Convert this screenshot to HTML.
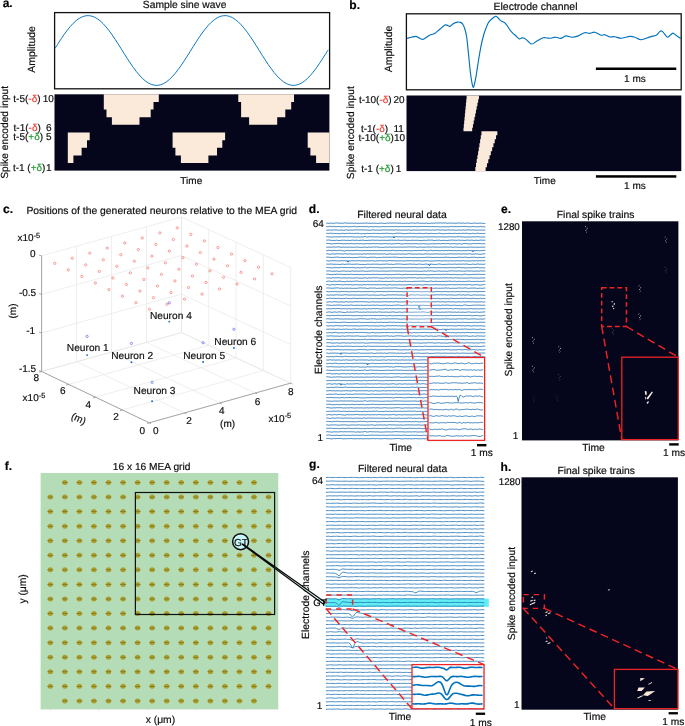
<!DOCTYPE html>
<html><head><meta charset="utf-8"><title>Figure</title>
<style>html,body{margin:0;padding:0;background:#fff;}svg{display:block;font-family:"Liberation Sans", sans-serif;will-change:transform;text-rendering:geometricPrecision;}text{stroke-width:0.18px;}</style></head>
<body>
<svg width="685" height="726" viewBox="0 0 685 726">
<defs>
<path id="wd0" d="M326.3 -0.07L327.3 0.03L328.3 0.19L329.3 0.07L330.3 -0.09L331.3 0.1L332.3 -0.1L333.3 0.21L334.3 0.06L335.3 -0.15L336.3 -0.28L337.3 -0.22L338.3 0.05L339.3 -0.1L340.3 0L341.3 0.09L342.3 0.04L343.3 0.05L344.3 -0.21L345.3 -0.32L346.3 -0.25L347.3 0.03L348.3 0.04L349.3 -0.05L350.3 -0.01L351.3 -0.03L352.3 -0.08L353.3 0.07L354.3 0.08L355.3 -0.07L356.3 0.03L357.3 0.05L358.3 0.15L359.3 0.11L360.3 -0.05L361.3 0.2L362.3 -0.05L363.3 -0.06L364.3 0.04L365.3 -0.14L366.3 -0.05L367.3 -0.18L368.3 0.02L369.3 0.13L370.3 0.08L371.3 0.17L372.3 -0.05L373.3 0.01L374.3 0.03L375.3 0.08L376.3 0.08L377.3 0.19L378.3 0.22L379.3 0.01L380.3 0.02L381.3 -0.18L382.3 0.04L383.3 0.11L384.3 0.28L385.3 0.25L386.3 -0.01L387.3 -0.11L388.3 -0.04L389.3 -0.22L390.3 -0.04L391.3 -0.07L392.3 -0.14L393.3 -0.24L394.3 -0.03L395.3 -0.19L396.3 -0.18L397.3 -0.11L398.3 0.13L399.3 -0.07L400.3 0L401.3 0.01L402.3 0.09L403.3 0.1L404.3 0.18L405.3 0.03L406.3 0.01L407.3 -0.06L408.3 0.11L409.3 0.22L410.3 -0.06L411.3 -0.17L412.3 -0.19L413.3 -0.15L414.3 -0.01L415.3 0.04L416.3 -0.12L417.3 -0.28L418.3 -0.11L419.3 -0.03L420.3 0.04L421.3 0.15L422.3 0.09L423.3 0.04L424.3 0.08L425.3 0.09L426.3 -0.16L427.3 0.13L428.3 0.21L429.3 0.22L430.3 0.12L431.3 -0.07L432.3 -0.05L433.3 -0.09L434.3 0.08L435.3 -0.16L436.3 -0.26L437.3 -0.22L438.3 -0.21L439.3 -0.17L440.3 -0.27L441.3 -0.25L442.3 -0.13L443.3 -0.16L444.3 -0.17L445.3 -0.34L446.3 0L447.3 0.09L448.3 -0.06L449.3 -0.11L450.3 -0.1L451.3 -0.06L452.3 -0.16L453.3 0.02L454.3 0.12L455.3 0.04L456.3 0.1L457.3 -0.06L458.3 -0.2L459.3 -0.2L460.3 -0.19L461.3 0.09L462.3 -0.09L463.3 -0.24L464.3 0.09L465.3 0.09L466.3 -0.07L467.3 -0.05L468.3 -0.27L469.3 -0.09L470.3 0.22L471.3 0.27L472.3 0.15L473.3 -0.1L474.3 -0.1L475.3 -0.13L476.3 0.07L477.3 0.02L478.3 0.11L479.3 0.01L480.3 -0.08L481.3 0.05L482.3 0.14L483.3 0.18L484.3 0.25L485.3 0.27"/>
<path id="wd1" d="M326.3 -0.08L327.3 -0.15L328.3 -0.23L329.3 -0.26L330.3 -0.09L331.3 0.12L332.3 0.21L333.3 0.11L334.3 0.12L335.3 0.16L336.3 -0.11L337.3 0.03L338.3 0.2L339.3 0.22L340.3 0.2L341.3 0.05L342.3 -0.15L343.3 0L344.3 -0.11L345.3 0.06L346.3 0.21L347.3 0.04L348.3 -0.01L349.3 0.18L350.3 0.18L351.3 -0.02L352.3 -0.1L353.3 -0.13L354.3 0.11L355.3 0.12L356.3 -0.16L357.3 0.01L358.3 0.14L359.3 0.09L360.3 -0.03L361.3 0.02L362.3 -0.11L363.3 -0.19L364.3 0.18L365.3 0.19L366.3 0.13L367.3 0.22L368.3 0L369.3 0.06L370.3 0.06L371.3 -0.14L372.3 -0.16L373.3 -0.12L374.3 -0.11L375.3 0.02L376.3 -0.06L377.3 -0.02L378.3 -0.1L379.3 0.18L380.3 0.03L381.3 -0.03L382.3 -0.05L383.3 0.05L384.3 -0.08L385.3 0.12L386.3 0.07L387.3 0.09L388.3 0.08L389.3 -0.14L390.3 -0.07L391.3 -0.14L392.3 -0.22L393.3 0.07L394.3 -0.08L395.3 -0.06L396.3 0.02L397.3 -0.04L398.3 -0.12L399.3 -0.04L400.3 0.04L401.3 0.16L402.3 -0.08L403.3 -0.01L404.3 -0.11L405.3 -0.12L406.3 0.09L407.3 0.08L408.3 0.08L409.3 0.13L410.3 0.17L411.3 -0.01L412.3 0L413.3 -0.01L414.3 0L415.3 0.08L416.3 0.01L417.3 0.02L418.3 0.02L419.3 0.22L420.3 0.21L421.3 0.26L422.3 0.28L423.3 -0.02L424.3 -0.04L425.3 0.11L426.3 0.13L427.3 -0.12L428.3 -0.2L429.3 -0.09L430.3 -0.19L431.3 -0.14L432.3 -0.16L433.3 0.08L434.3 0.2L435.3 0.24L436.3 -0.09L437.3 -0.02L438.3 -0.02L439.3 -0.2L440.3 0.07L441.3 0.22L442.3 -0.01L443.3 0.18L444.3 0.04L445.3 0.04L446.3 0.26L447.3 0.28L448.3 0L449.3 -0.04L450.3 -0.08L451.3 -0.17L452.3 -0.24L453.3 -0.17L454.3 0.06L455.3 -0.12L456.3 0.01L457.3 -0.01L458.3 -0.2L459.3 -0.13L460.3 0.03L461.3 0.05L462.3 -0.13L463.3 0.13L464.3 0.11L465.3 0.17L466.3 -0.13L467.3 -0.13L468.3 -0.19L469.3 0.08L470.3 -0.05L471.3 -0.18L472.3 -0.11L473.3 0.11L474.3 0.19L475.3 0.01L476.3 -0.11L477.3 0.13L478.3 0.05L479.3 0.06L480.3 -0.16L481.3 -0.24L482.3 -0.01L483.3 -0.03L484.3 -0.19L485.3 0.09"/>
<path id="wd2" d="M326.3 -0.13L327.3 -0.23L328.3 -0.2L329.3 -0.14L330.3 -0.1L331.3 0.11L332.3 -0.01L333.3 0.01L334.3 -0.14L335.3 -0.15L336.3 -0.3L337.3 -0.25L338.3 -0.3L339.3 0L340.3 0.06L341.3 -0.04L342.3 0.02L343.3 0.21L344.3 -0.08L345.3 0.08L346.3 -0.03L347.3 -0.04L348.3 0.09L349.3 -0.02L350.3 -0.01L351.3 0.06L352.3 0.21L353.3 0.02L354.3 0.16L355.3 0.17L356.3 0.15L357.3 0.04L358.3 -0.04L359.3 -0.21L360.3 -0.26L361.3 -0.31L362.3 -0.06L363.3 -0.14L364.3 -0.17L365.3 -0.18L366.3 0.12L367.3 0.23L368.3 0.17L369.3 -0.03L370.3 -0.14L371.3 -0.16L372.3 -0.11L373.3 -0.19L374.3 -0.09L375.3 -0.12L376.3 0.15L377.3 0.25L378.3 0.11L379.3 -0.05L380.3 0.18L381.3 0L382.3 -0.04L383.3 -0.21L384.3 -0.14L385.3 -0.09L386.3 -0.06L387.3 -0.16L388.3 -0.06L389.3 -0.19L390.3 -0.12L391.3 -0.17L392.3 -0.08L393.3 -0.21L394.3 -0.28L395.3 -0.21L396.3 -0.2L397.3 -0.04L398.3 0.01L399.3 0.13L400.3 0.13L401.3 0.13L402.3 0.18L403.3 -0.01L404.3 -0.09L405.3 0.15L406.3 -0.06L407.3 0.1L408.3 0.13L409.3 -0.11L410.3 0.08L411.3 0.13L412.3 0.04L413.3 0.06L414.3 0.13L415.3 -0.06L416.3 0.05L417.3 0.09L418.3 0.21L419.3 0.2L420.3 0.15L421.3 0.02L422.3 0.09L423.3 0.06L424.3 0.1L425.3 -0.03L426.3 -0.13L427.3 -0.14L428.3 -0.07L429.3 -0.18L430.3 0.04L431.3 0L432.3 0.02L433.3 0.05L434.3 0.09L435.3 0.03L436.3 -0.18L437.3 0.04L438.3 0.1L439.3 0.04L440.3 0.04L441.3 0.11L442.3 -0.09L443.3 0.09L444.3 -0.06L445.3 -0.21L446.3 -0.21L447.3 -0.04L448.3 -0.17L449.3 0.02L450.3 0.22L451.3 0.12L452.3 0.05L453.3 0.05L454.3 0.1L455.3 0.13L456.3 0.06L457.3 0.05L458.3 -0.17L459.3 -0.21L460.3 -0.17L461.3 0.04L462.3 -0.07L463.3 0L464.3 -0.2L465.3 -0.23L466.3 -0.15L467.3 0.05L468.3 0.13L469.3 0.14L470.3 -0.04L471.3 -0.04L472.3 -0.08L473.3 -0.1L474.3 -0.22L475.3 0.06L476.3 -0.07L477.3 0.21L478.3 0.3L479.3 -0.04L480.3 0L481.3 0.13L482.3 0.21L483.3 0.03L484.3 -0.12L485.3 -0.2"/>
<path id="wd3" d="M326.3 -0.22L327.3 -0.06L328.3 -0.02L329.3 -0.1L330.3 -0.22L331.3 -0.18L332.3 -0.13L333.3 0.12L334.3 -0.13L335.3 0.05L336.3 0.13L337.3 -0.09L338.3 0.17L339.3 0.17L340.3 0.21L341.3 -0.04L342.3 -0.1L343.3 -0.08L344.3 0.18L345.3 0.1L346.3 -0.04L347.3 -0.06L348.3 -0.1L349.3 -0.17L350.3 -0.18L351.3 0.08L352.3 -0.07L353.3 0.14L354.3 -0.04L355.3 -0.1L356.3 -0.04L357.3 -0.17L358.3 -0.14L359.3 0.12L360.3 0.21L361.3 0.21L362.3 0.14L363.3 0.21L364.3 0.26L365.3 0.13L366.3 0.16L367.3 -0.12L368.3 0.03L369.3 -0.04L370.3 0.06L371.3 0.07L372.3 -0.06L373.3 -0.21L374.3 0.08L375.3 -0.11L376.3 -0.03L377.3 -0.03L378.3 -0.06L379.3 0.08L380.3 0.2L381.3 -0.03L382.3 0.04L383.3 -0.07L384.3 -0.03L385.3 -0.08L386.3 -0.18L387.3 -0.19L388.3 -0.16L389.3 0.13L390.3 0.06L391.3 -0.08L392.3 0.14L393.3 0.26L394.3 0.09L395.3 -0.12L396.3 -0.2L397.3 -0.27L398.3 -0.18L399.3 -0.22L400.3 -0.17L401.3 -0.15L402.3 -0.03L403.3 0.15L404.3 0.19L405.3 0.07L406.3 0.01L407.3 0L408.3 -0.08L409.3 -0.11L410.3 -0.21L411.3 -0.17L412.3 0.09L413.3 -0.15L414.3 -0.06L415.3 0.06L416.3 0.21L417.3 -0.01L418.3 -0.09L419.3 -0.14L420.3 -0.07L421.3 -0.02L422.3 0.17L423.3 0.15L424.3 0.14L425.3 -0.17L426.3 -0.23L427.3 0.03L428.3 0.17L429.3 0.04L430.3 0.05L431.3 -0.13L432.3 -0.03L433.3 0.18L434.3 0.16L435.3 0.14L436.3 0.21L437.3 -0.02L438.3 -0.16L439.3 -0.22L440.3 -0.11L441.3 0.02L442.3 0.23L443.3 0.23L444.3 0.17L445.3 0.15L446.3 0.01L447.3 0.04L448.3 -0.13L449.3 0.06L450.3 -0.14L451.3 0.04L452.3 0.04L453.3 -0.03L454.3 -0.11L455.3 -0.13L456.3 -0.01L457.3 0.07L458.3 -0.08L459.3 -0.13L460.3 -0.02L461.3 -0.02L462.3 -0.11L463.3 -0.17L464.3 0L465.3 -0.18L466.3 -0.17L467.3 -0.13L468.3 0.12L469.3 0.16L470.3 0.28L471.3 0.12L472.3 -0.09L473.3 -0.16L474.3 0.14L475.3 0.17L476.3 -0.01L477.3 -0.25L478.3 -0.17L479.3 -0.01L480.3 0.01L481.3 -0.04L482.3 0.06L483.3 0.15L484.3 -0.06L485.3 -0.15"/>
<path id="wd4" d="M326.3 0.22L327.3 0.04L328.3 -0.16L329.3 -0.2L330.3 -0.08L331.3 0.08L332.3 0.23L333.3 -0.09L334.3 -0.12L335.3 -0.17L336.3 0.16L337.3 -0.01L338.3 -0.14L339.3 -0.25L340.3 -0.22L341.3 0L342.3 0.15L343.3 0.21L344.3 0.36L345.3 0.34L346.3 0.03L347.3 -0.18L348.3 0.04L349.3 0.09L350.3 -0.13L351.3 0.06L352.3 0.01L353.3 -0.03L354.3 -0.07L355.3 -0.16L356.3 -0.28L357.3 -0.22L358.3 -0.17L359.3 0.12L360.3 -0.07L361.3 0.21L362.3 -0.01L363.3 -0.07L364.3 0.06L365.3 0.11L366.3 0.01L367.3 -0.15L368.3 -0.04L369.3 -0.07L370.3 0.12L371.3 -0.09L372.3 -0.06L373.3 0.17L374.3 -0.1L375.3 -0.09L376.3 0.04L377.3 0.07L378.3 -0.17L379.3 -0.2L380.3 -0.19L381.3 0.14L382.3 -0.04L383.3 0.05L384.3 0.13L385.3 -0.05L386.3 -0.12L387.3 0.15L388.3 0.13L389.3 0L390.3 0.12L391.3 -0.03L392.3 -0.13L393.3 -0.29L394.3 -0.04L395.3 0.15L396.3 0.14L397.3 0.27L398.3 -0.07L399.3 -0.13L400.3 -0.08L401.3 0.13L402.3 0.21L403.3 0.03L404.3 -0.09L405.3 -0.06L406.3 -0.02L407.3 0.18L408.3 -0.03L409.3 0.12L410.3 0.12L411.3 0.13L412.3 0.12L413.3 0.08L414.3 -0.02L415.3 -0.05L416.3 -0.06L417.3 0.09L418.3 -0.14L419.3 -0.16L420.3 0.05L421.3 -0.1L422.3 -0.24L423.3 -0.3L424.3 -0.08L425.3 -0.05L426.3 0.23L427.3 0.27L428.3 0.26L429.3 -0.07L430.3 -0.25L431.3 -0.26L432.3 -0.05L433.3 0.12L434.3 0.05L435.3 -0.09L436.3 -0.08L437.3 0L438.3 0.06L439.3 0.11L440.3 0.15L441.3 0.1L442.3 -0.1L443.3 0.14L444.3 0.03L445.3 0.05L446.3 -0.07L447.3 0L448.3 -0.17L449.3 -0.15L450.3 -0.09L451.3 -0.11L452.3 0.12L453.3 0.03L454.3 -0.09L455.3 -0.07L456.3 0.2L457.3 0.1L458.3 -0.09L459.3 0.04L460.3 0.03L461.3 0.22L462.3 -0.01L463.3 0.06L464.3 0.16L465.3 0.13L466.3 0.13L467.3 -0.18L468.3 -0.13L469.3 -0.14L470.3 -0.12L471.3 0.16L472.3 0.08L473.3 0.18L474.3 0L475.3 0.12L476.3 0L477.3 -0.12L478.3 0.08L479.3 0.25L480.3 0L481.3 0.07L482.3 0.03L483.3 -0.18L484.3 -0.18L485.3 -0.2"/>
<path id="wd5" d="M326.3 0.01L327.3 0.04L328.3 0.04L329.3 -0.19L330.3 -0.23L331.3 0L332.3 -0.01L333.3 -0.07L334.3 -0.1L335.3 0.14L336.3 -0.02L337.3 0.03L338.3 -0.04L339.3 -0.06L340.3 0.09L341.3 0.21L342.3 0.04L343.3 -0.07L344.3 0.09L345.3 -0.1L346.3 -0.26L347.3 0.04L348.3 -0.01L349.3 0.17L350.3 0.06L351.3 0.16L352.3 0L353.3 -0.17L354.3 -0.25L355.3 -0.03L356.3 0.09L357.3 0.2L358.3 -0.13L359.3 -0.04L360.3 -0.08L361.3 0.01L362.3 -0.08L363.3 -0.09L364.3 -0.05L365.3 0.09L366.3 -0.16L367.3 -0.05L368.3 0.15L369.3 0.28L370.3 0L371.3 -0.16L372.3 0.09L373.3 0.2L374.3 0.06L375.3 -0.16L376.3 0.1L377.3 -0.02L378.3 0.16L379.3 0.13L380.3 0.2L381.3 -0.06L382.3 0.07L383.3 -0.11L384.3 -0.08L385.3 0.12L386.3 0.17L387.3 -0.08L388.3 -0.16L389.3 -0.1L390.3 0.01L391.3 0.02L392.3 -0.09L393.3 -0.15L394.3 -0.04L395.3 0.05L396.3 -0.19L397.3 0L398.3 0.19L399.3 -0.05L400.3 0.11L401.3 -0.16L402.3 -0.07L403.3 -0.02L404.3 0.07L405.3 -0.02L406.3 -0.04L407.3 -0.02L408.3 -0.07L409.3 0.04L410.3 0.04L411.3 0.04L412.3 -0.15L413.3 -0.03L414.3 -0.06L415.3 -0.16L416.3 0.03L417.3 0.13L418.3 0.05L419.3 -0.08L420.3 -0.01L421.3 -0.13L422.3 -0.19L423.3 -0.13L424.3 -0.26L425.3 -0.15L426.3 -0.03L427.3 -0.13L428.3 0.06L429.3 -0.13L430.3 0L431.3 0.05L432.3 0L433.3 -0.13L434.3 0.02L435.3 -0.01L436.3 0.14L437.3 -0.17L438.3 0.03L439.3 0.22L440.3 0.24L441.3 0.28L442.3 -0.01L443.3 0.13L444.3 -0.03L445.3 0.13L446.3 0.24L447.3 0.01L448.3 0.16L449.3 0.22L450.3 -0.13L451.3 -0.15L452.3 0.03L453.3 -0.11L454.3 0.15L455.3 -0.01L456.3 0.14L457.3 -0.09L458.3 -0.05L459.3 0.11L460.3 -0.11L461.3 -0.15L462.3 -0.02L463.3 -0.02L464.3 -0.14L465.3 -0.17L466.3 -0.24L467.3 0.02L468.3 0.05L469.3 0.21L470.3 0L471.3 0.14L472.3 -0.13L473.3 -0.1L474.3 -0.03L475.3 -0.03L476.3 0.22L477.3 0.17L478.3 0.09L479.3 0.1L480.3 -0.22L481.3 0.06L482.3 0.11L483.3 0.09L484.3 0.23L485.3 0.01"/>
<path id="wd6" d="M326.3 -0.24L327.3 -0.33L328.3 -0.29L329.3 -0.04L330.3 0.01L331.3 0.06L332.3 0.2L333.3 -0.08L334.3 -0.15L335.3 0L336.3 -0.18L337.3 -0.25L338.3 -0.16L339.3 -0.25L340.3 -0.19L341.3 -0.19L342.3 0L343.3 0.1L344.3 -0.03L345.3 0.06L346.3 0L347.3 -0.17L348.3 0.1L349.3 -0.06L350.3 -0.15L351.3 -0.23L352.3 -0.08L353.3 0.06L354.3 0.11L355.3 0.03L356.3 -0.01L357.3 -0.12L358.3 0.06L359.3 0.04L360.3 -0.07L361.3 0L362.3 -0.04L363.3 0.14L364.3 0.1L365.3 -0.11L366.3 0.08L367.3 -0.15L368.3 0.02L369.3 0.06L370.3 0L371.3 -0.14L372.3 0.03L373.3 -0.25L374.3 -0.13L375.3 0.1L376.3 -0.11L377.3 -0.15L378.3 -0.01L379.3 0L380.3 0.07L381.3 0.19L382.3 -0.01L383.3 -0.05L384.3 -0.11L385.3 -0.28L386.3 -0.01L387.3 0.08L388.3 0.13L389.3 -0.09L390.3 0.15L391.3 0.16L392.3 0.02L393.3 0.07L394.3 -0.01L395.3 -0.11L396.3 -0.19L397.3 -0.18L398.3 -0.27L399.3 -0.17L400.3 0.05L401.3 0.14L402.3 0.24L403.3 0.2L404.3 -0.04L405.3 -0.05L406.3 -0.1L407.3 0.05L408.3 0.04L409.3 -0.05L410.3 0.05L411.3 0.2L412.3 -0.05L413.3 0.14L414.3 -0.1L415.3 -0.08L416.3 -0.1L417.3 0.04L418.3 0.14L419.3 0.09L420.3 -0.07L421.3 0.13L422.3 0L423.3 -0.1L424.3 0.12L425.3 0.08L426.3 0.12L427.3 0.16L428.3 0.31L429.3 0.13L430.3 0.16L431.3 0.07L432.3 0.08L433.3 -0.05L434.3 0.07L435.3 0.08L436.3 -0.02L437.3 -0.1L438.3 0.03L439.3 -0.13L440.3 0.15L441.3 -0.05L442.3 -0.2L443.3 -0.26L444.3 0L445.3 -0.13L446.3 -0.2L447.3 -0.22L448.3 -0.19L449.3 0.05L450.3 0.08L451.3 0.08L452.3 0.09L453.3 -0.15L454.3 -0.01L455.3 -0.05L456.3 0.1L457.3 0.14L458.3 0.19L459.3 -0.09L460.3 0.15L461.3 0.25L462.3 0.27L463.3 -0.1L464.3 -0.22L465.3 -0.28L466.3 -0.28L467.3 0.08L468.3 0.21L469.3 0.16L470.3 0.19L471.3 0.1L472.3 -0.06L473.3 -0.17L474.3 -0.21L475.3 0.01L476.3 -0.15L477.3 -0.17L478.3 -0.12L479.3 -0.21L480.3 -0.11L481.3 -0.07L482.3 0.09L483.3 -0.03L484.3 -0.11L485.3 0.13"/>
<path id="wd7" d="M326.3 -0.14L327.3 -0.09L328.3 0.1L329.3 0.25L330.3 -0.07L331.3 -0.04L332.3 -0.1L333.3 -0.03L334.3 -0.18L335.3 -0.03L336.3 -0.01L337.3 0.16L338.3 0.01L339.3 0.24L340.3 0.03L341.3 -0.16L342.3 -0.06L343.3 -0.08L344.3 -0.19L345.3 0L346.3 -0.14L347.3 0.11L348.3 0.16L349.3 0.18L350.3 0.09L351.3 -0.05L352.3 -0.07L353.3 -0.09L354.3 0.11L355.3 -0.1L356.3 0.17L357.3 -0.11L358.3 -0.19L359.3 -0.2L360.3 0.08L361.3 0.03L362.3 -0.05L363.3 0.13L364.3 0L365.3 0.07L366.3 0.06L367.3 0.07L368.3 0.05L369.3 0.04L370.3 -0.06L371.3 -0.13L372.3 -0.19L373.3 0.13L374.3 0.21L375.3 0.23L376.3 -0.06L377.3 -0.08L378.3 0.04L379.3 -0.01L380.3 -0.21L381.3 -0.12L382.3 0.14L383.3 0.01L384.3 -0.06L385.3 -0.06L386.3 0.08L387.3 0.15L388.3 -0.14L389.3 -0.23L390.3 -0.19L391.3 -0.12L392.3 -0.03L393.3 -0.14L394.3 -0.09L395.3 -0.11L396.3 0.14L397.3 0.09L398.3 -0.15L399.3 0.16L400.3 -0.06L401.3 -0.07L402.3 0.14L403.3 0.18L404.3 0.18L405.3 0.01L406.3 -0.18L407.3 -0.04L408.3 -0.13L409.3 -0.11L410.3 -0.06L411.3 -0.19L412.3 -0.08L413.3 0.1L414.3 0.08L415.3 -0.04L416.3 -0.01L417.3 -0.03L418.3 -0.14L419.3 0.02L420.3 0.02L421.3 0.16L422.3 0.24L423.3 0.04L424.3 0.02L425.3 0.08L426.3 -0.04L427.3 -0.17L428.3 0.01L429.3 0.2L430.3 0.23L431.3 0.17L432.3 0.19L433.3 0.16L434.3 0.14L435.3 0.02L436.3 -0.13L437.3 -0.03L438.3 -0.14L439.3 -0.06L440.3 0.06L441.3 0.07L442.3 0.1L443.3 -0.02L444.3 -0.02L445.3 -0.05L446.3 0.03L447.3 0L448.3 0.08L449.3 0.17L450.3 -0.1L451.3 0.01L452.3 0.11L453.3 -0.01L454.3 -0.01L455.3 0.21L456.3 -0.08L457.3 0L458.3 -0.13L459.3 0.08L460.3 0.2L461.3 0.04L462.3 -0.19L463.3 -0.05L464.3 0.02L465.3 0.09L466.3 0.02L467.3 0.08L468.3 0.22L469.3 0.13L470.3 -0.01L471.3 0.13L472.3 -0.07L473.3 0.06L474.3 -0.05L475.3 0.02L476.3 -0.16L477.3 0.18L478.3 0.06L479.3 -0.14L480.3 -0.14L481.3 -0.06L482.3 -0.18L483.3 -0.12L484.3 -0.13L485.3 -0.01"/>
<path id="wd8" d="M326.3 -0.01L327.3 -0.21L328.3 0.02L329.3 -0.07L330.3 0.08L331.3 0.22L332.3 0.23L333.3 0.05L334.3 -0.09L335.3 0.01L336.3 -0.08L337.3 0.15L338.3 -0.01L339.3 0.05L340.3 -0.17L341.3 -0.16L342.3 -0.13L343.3 -0.01L344.3 -0.07L345.3 -0.2L346.3 0.01L347.3 -0.07L348.3 -0.1L349.3 -0.09L350.3 -0.06L351.3 -0.12L352.3 -0.07L353.3 0.01L354.3 -0.02L355.3 0.23L356.3 0.27L357.3 -0.08L358.3 0.08L359.3 0.18L360.3 0.21L361.3 -0.02L362.3 0.12L363.3 0.03L364.3 -0.28L365.3 -0.36L366.3 0.07L367.3 0.18L368.3 0.06L369.3 -0.1L370.3 -0.2L371.3 -0.22L372.3 0.01L373.3 -0.03L374.3 -0.13L375.3 0.09L376.3 0.08L377.3 -0.16L378.3 0.09L379.3 0.13L380.3 0.23L381.3 0.19L382.3 0.21L383.3 0.16L384.3 0.17L385.3 -0.05L386.3 0.06L387.3 0L388.3 0.03L389.3 -0.06L390.3 0.14L391.3 0.14L392.3 0.05L393.3 -0.05L394.3 -0.19L395.3 -0.13L396.3 -0.26L397.3 -0.09L398.3 -0.13L399.3 -0.03L400.3 -0.05L401.3 -0.07L402.3 0.08L403.3 -0.13L404.3 0.17L405.3 0.12L406.3 0.08L407.3 0.04L408.3 0.08L409.3 -0.05L410.3 -0.03L411.3 0.2L412.3 -0.1L413.3 -0.01L414.3 0.03L415.3 -0.16L416.3 0.04L417.3 0.13L418.3 0.21L419.3 -0.03L420.3 0.13L421.3 0.05L422.3 0.04L423.3 0.2L424.3 -0.12L425.3 -0.01L426.3 0.01L427.3 -0.05L428.3 0.19L429.3 0.08L430.3 0.03L431.3 -0.03L432.3 0.02L433.3 -0.14L434.3 -0.04L435.3 0.02L436.3 0.07L437.3 0.13L438.3 -0.09L439.3 0.06L440.3 -0.01L441.3 0.05L442.3 -0.03L443.3 -0.01L444.3 0.14L445.3 0.07L446.3 0.14L447.3 0.02L448.3 -0.04L449.3 -0.1L450.3 -0.04L451.3 0.01L452.3 0.12L453.3 -0.1L454.3 0.07L455.3 0.16L456.3 0.03L457.3 -0.19L458.3 -0.12L459.3 -0.17L460.3 -0.14L461.3 0.1L462.3 0.01L463.3 0L464.3 0.1L465.3 0.24L466.3 0.19L467.3 0.13L468.3 0.07L469.3 0.05L470.3 0.04L471.3 0.12L472.3 -0.02L473.3 0.08L474.3 -0.02L475.3 0.03L476.3 -0.19L477.3 -0.19L478.3 -0.2L479.3 0.08L480.3 0.2L481.3 0.12L482.3 -0.01L483.3 0.14L484.3 0.18L485.3 0.08"/>
<path id="wd9" d="M326.3 -0.19L327.3 -0.14L328.3 -0.03L329.3 0.18L330.3 0.25L331.3 0.01L332.3 -0.1L333.3 -0.18L334.3 0.09L335.3 0L336.3 -0.12L337.3 -0.24L338.3 -0.29L339.3 -0.06L340.3 -0.23L341.3 0.07L342.3 -0.1L343.3 0.16L344.3 -0.09L345.3 -0.27L346.3 -0.03L347.3 -0.08L348.3 0.09L349.3 -0.1L350.3 -0.21L351.3 0.06L352.3 0.13L353.3 0.16L354.3 0.11L355.3 -0.12L356.3 0.04L357.3 0.08L358.3 -0.05L359.3 0.12L360.3 -0.02L361.3 0.21L362.3 0.16L363.3 -0.13L364.3 -0.18L365.3 0.05L366.3 0.13L367.3 -0.18L368.3 -0.18L369.3 0.01L370.3 -0.15L371.3 0.05L372.3 0.02L373.3 -0.09L374.3 -0.01L375.3 0.02L376.3 -0.06L377.3 0.04L378.3 -0.1L379.3 0.09L380.3 -0.05L381.3 0.03L382.3 0.07L383.3 -0.02L384.3 -0.1L385.3 0.06L386.3 0.24L387.3 0.26L388.3 0.12L389.3 -0.09L390.3 -0.23L391.3 0.13L392.3 0.16L393.3 0.2L394.3 0.02L395.3 0.07L396.3 0.18L397.3 0.09L398.3 -0.01L399.3 -0.06L400.3 0.04L401.3 0.23L402.3 0.04L403.3 0.08L404.3 0.08L405.3 0.18L406.3 0.15L407.3 -0.05L408.3 -0.19L409.3 -0.16L410.3 -0.14L411.3 -0.09L412.3 0.1L413.3 0.27L414.3 -0.02L415.3 0.13L416.3 0.15L417.3 0.19L418.3 0.08L419.3 -0.1L420.3 0.08L421.3 0.19L422.3 0.19L423.3 0.22L424.3 -0.05L425.3 -0.22L426.3 -0.04L427.3 0.13L428.3 -0.07L429.3 0.08L430.3 0.24L431.3 0.02L432.3 0.04L433.3 0.05L434.3 0L435.3 -0.1L436.3 -0.16L437.3 -0.02L438.3 0.07L439.3 0.04L440.3 -0.1L441.3 0.09L442.3 0.14L443.3 -0.01L444.3 0.08L445.3 0.18L446.3 0.16L447.3 0.02L448.3 -0.01L449.3 0.02L450.3 -0.15L451.3 -0.17L452.3 -0.12L453.3 0.09L454.3 -0.04L455.3 -0.04L456.3 -0.07L457.3 0.02L458.3 -0.1L459.3 -0.21L460.3 0.12L461.3 0.01L462.3 -0.17L463.3 -0.07L464.3 0.04L465.3 -0.09L466.3 0.07L467.3 -0.03L468.3 -0.05L469.3 -0.22L470.3 -0.22L471.3 0.17L472.3 0.22L473.3 0.08L474.3 0.06L475.3 -0.11L476.3 -0.03L477.3 -0.12L478.3 0.15L479.3 0.25L480.3 0.28L481.3 0.28L482.3 -0.01L483.3 -0.18L484.3 -0.18L485.3 -0.21"/>
<path id="wd10" d="M326.3 0.23L327.3 0.19L328.3 0.07L329.3 0.04L330.3 -0.12L331.3 0.1L332.3 0.19L333.3 -0.05L334.3 -0.19L335.3 -0.18L336.3 -0.16L337.3 0.07L338.3 0.2L339.3 0.24L340.3 -0.06L341.3 0.09L342.3 0.12L343.3 0.14L344.3 0.28L345.3 -0.07L346.3 -0.21L347.3 -0.04L348.3 0.11L349.3 0.08L350.3 -0.06L351.3 0.04L352.3 0.17L353.3 -0.02L354.3 -0.05L355.3 -0.14L356.3 -0.25L357.3 -0.11L358.3 -0.13L359.3 -0.11L360.3 -0.19L361.3 -0.06L362.3 -0.26L363.3 -0.03L364.3 -0.12L365.3 -0.2L366.3 0.14L367.3 0L368.3 0.22L369.3 0.21L370.3 0.18L371.3 -0.12L372.3 -0.08L373.3 -0.18L374.3 0.09L375.3 0.13L376.3 0.09L377.3 0.05L378.3 0L379.3 0.14L380.3 0.02L381.3 0.05L382.3 -0.1L383.3 -0.11L384.3 -0.21L385.3 -0.01L386.3 -0.02L387.3 -0.18L388.3 0.05L389.3 -0.11L390.3 -0.06L391.3 -0.09L392.3 -0.03L393.3 0.16L394.3 -0.05L395.3 -0.21L396.3 -0.11L397.3 -0.09L398.3 0.15L399.3 -0.1L400.3 0.14L401.3 -0.14L402.3 0.09L403.3 0.08L404.3 -0.09L405.3 -0.01L406.3 -0.03L407.3 -0.06L408.3 -0.14L409.3 -0.15L410.3 0.1L411.3 0.23L412.3 0.25L413.3 -0.09L414.3 -0.14L415.3 0.11L416.3 -0.09L417.3 0.1L418.3 -0.04L419.3 0.15L420.3 -0.16L421.3 0.06L422.3 -0.03L423.3 -0.15L424.3 -0.24L425.3 0.06L426.3 0.03L427.3 -0.15L428.3 -0.13L429.3 0.1L430.3 -0.02L431.3 0.11L432.3 -0.06L433.3 -0.18L434.3 -0.01L435.3 0.04L436.3 -0.11L437.3 -0.2L438.3 -0.22L439.3 -0.02L440.3 0.02L441.3 -0.08L442.3 -0.17L443.3 -0.05L444.3 0.07L445.3 0.19L446.3 0.13L447.3 -0.08L448.3 -0.23L449.3 0L450.3 -0.03L451.3 0.08L452.3 -0.17L453.3 0.04L454.3 -0.04L455.3 0.16L456.3 0.24L457.3 0.08L458.3 -0.18L459.3 0.08L460.3 0L461.3 0.12L462.3 -0.06L463.3 -0.12L464.3 0.14L465.3 0.03L466.3 -0.15L467.3 -0.17L468.3 -0.06L469.3 -0.18L470.3 0L471.3 0.01L472.3 0L473.3 -0.18L474.3 -0.01L475.3 0.1L476.3 0.16L477.3 0L478.3 0.12L479.3 0.05L480.3 0.13L481.3 -0.16L482.3 0.04L483.3 0.18L484.3 0.08L485.3 0.04"/>
<path id="wd11" d="M326.3 0.03L327.3 0.09L328.3 0.12L329.3 -0.16L330.3 0.08L331.3 0.17L332.3 -0.09L333.3 -0.22L334.3 -0.13L335.3 -0.02L336.3 -0.06L337.3 -0.21L338.3 -0.19L339.3 -0.21L340.3 0.05L341.3 0.23L342.3 -0.07L343.3 -0.04L344.3 0.07L345.3 -0.09L346.3 0.11L347.3 0.21L348.3 0L349.3 -0.07L350.3 0.07L351.3 0.06L352.3 0.06L353.3 0.22L354.3 0.12L355.3 -0.08L356.3 -0.1L357.3 -0.01L358.3 0L359.3 0.13L360.3 0.13L361.3 0.24L362.3 0.23L363.3 0.17L364.3 -0.17L365.3 -0.04L366.3 0.21L367.3 0.24L368.3 -0.05L369.3 -0.03L370.3 0.12L371.3 0.04L372.3 -0.01L373.3 -0.24L374.3 -0.14L375.3 -0.03L376.3 -0.18L377.3 -0.2L378.3 0.1L379.3 0.12L380.3 0.19L381.3 0.15L382.3 0.24L383.3 0.26L384.3 0.18L385.3 -0.19L386.3 0.02L387.3 0.01L388.3 0.1L389.3 -0.13L390.3 -0.1L391.3 0.15L392.3 0.14L393.3 -0.06L394.3 -0.05L395.3 -0.03L396.3 0.23L397.3 0.02L398.3 -0.1L399.3 0.01L400.3 -0.11L401.3 0.02L402.3 0.13L403.3 -0.02L404.3 -0.11L405.3 -0.02L406.3 0.04L407.3 -0.11L408.3 -0.19L409.3 -0.23L410.3 -0.18L411.3 -0.08L412.3 -0.05L413.3 -0.09L414.3 -0.25L415.3 -0.15L416.3 0.1L417.3 0.16L418.3 0.11L419.3 0.01L420.3 -0.2L421.3 0.04L422.3 0.08L423.3 0.07L424.3 0.04L425.3 0.01L426.3 -0.03L427.3 -0.1L428.3 -0.19L429.3 -0.1L430.3 -0.07L431.3 0.02L432.3 -0.22L433.3 -0.17L434.3 0.1L435.3 -0.02L436.3 0.05L437.3 0.02L438.3 -0.09L439.3 0.14L440.3 -0.05L441.3 0.1L442.3 -0.05L443.3 -0.16L444.3 0.03L445.3 -0.1L446.3 -0.2L447.3 -0.03L448.3 0L449.3 0.02L450.3 -0.22L451.3 -0.14L452.3 0.24L453.3 0.21L454.3 -0.11L455.3 -0.14L456.3 -0.1L457.3 0.04L458.3 0.02L459.3 0.11L460.3 0.18L461.3 0.1L462.3 0.12L463.3 0.12L464.3 0.17L465.3 0.09L466.3 0.15L467.3 0.12L468.3 0.18L469.3 -0.09L470.3 0.1L471.3 -0.16L472.3 0.09L473.3 0.08L474.3 -0.03L475.3 0.09L476.3 0.07L477.3 0.09L478.3 0.2L479.3 0.16L480.3 0.03L481.3 0L482.3 0.08L483.3 0.03L484.3 0.02L485.3 -0.15"/>
<g id="el"><ellipse cx="0" cy="0" rx="2.6" ry="2.5" fill="#ad9f2b"/><rect x="-2.9" y="-0.36" width="5.8" height="0.72" fill="#6f6a22" opacity="0.85"/></g>
<path id="wg0" d="M325.9 0.04L327.1 -0.06L328.3 -0.22L329.5 -0.01L330.7 0.04L331.9 0.12L333.1 0.08L334.3 -0.07L335.5 -0.01L336.7 0.05L337.9 -0.09L339.1 0.02L340.3 -0.09L341.5 -0.14L342.7 0.05L343.9 -0.06L345.1 0.12L346.3 0.06L347.5 0.05L348.7 -0.03L349.9 -0.05L351.1 -0.11L352.3 -0.15L353.5 0.04L354.7 -0.09L355.9 0.01L357.1 -0.04L358.3 0.18L359.5 0.2L360.7 0.11L361.9 0.06L363.1 0.03L364.3 0.09L365.5 -0.08L366.7 -0.07L367.9 0.05L369.1 0L370.3 0.17L371.5 0.15L372.7 -0.04L373.9 -0.1L375.1 -0.02L376.3 0.03L377.5 0.16L378.7 -0.01L379.9 -0.17L381.1 -0.17L382.3 0.01L383.5 0.13L384.7 0.06L385.9 0.06L387.1 0.09L388.3 0.1L389.5 -0.1L390.7 -0.09L391.9 -0.06L393.1 0.03L394.3 -0.01L395.5 -0.02L396.7 0.01L397.9 0.12L399.1 -0.06L400.3 -0.09L401.5 -0.14L402.7 -0.13L403.9 -0.09L405.1 0.1L406.3 0.12L407.5 0.01L408.7 0.05L409.9 0.05L411.1 0.07L412.3 0.1L413.5 0.03L414.7 0.21L415.9 0.24L417.1 0.07L418.3 0.05L419.5 0.01L420.7 0.03L421.9 -0.01L423.1 0.08L424.3 -0.11L425.5 -0.16L426.7 0.04L427.9 0.09L429.1 -0.01L430.3 0.07L431.5 -0.05L432.7 -0.02L433.9 -0.04L435.1 -0.07L436.3 -0.16L437.5 -0.17L438.7 -0.09L439.9 0.07L441.1 0.13L442.3 0.11L443.5 0.06L444.7 -0.02L445.9 0.13L447.1 0.06L448.3 0.09L449.5 -0.12L450.7 -0.18L451.9 -0.03L453.1 0.08L454.3 0.19L455.5 0.16L456.7 0.05L457.9 0.03L459.1 0.09L460.3 -0.04L461.5 -0.07L462.7 -0.15L463.9 0.02L465.1 -0.02L466.3 0.14L467.5 0.18L468.7 -0.14L469.9 -0.1L471.1 0L472.3 0.13L473.5 0.08L474.7 -0.05L475.9 -0.03L477.1 0.14L478.3 0.16L479.5 -0.09L480.7 -0.19L481.9 -0.16L483.1 -0.1L484.3 0.01"/>
<path id="wg1" d="M325.9 0.18L327.1 0.12L328.3 0.03L329.5 -0.17L330.7 -0.02L331.9 -0.05L333.1 0.05L334.3 -0.11L335.5 0.01L336.7 -0.03L337.9 0.05L339.1 -0.07L340.3 -0.19L341.5 -0.08L342.7 -0.02L343.9 0.13L345.1 -0.03L346.3 -0.05L347.5 -0.01L348.7 0.13L349.9 -0.05L351.1 -0.01L352.3 -0.01L353.5 0.07L354.7 0.18L355.9 0.02L357.1 0.03L358.3 -0.02L359.5 0L360.7 -0.09L361.9 0.08L363.1 0.15L364.3 0.01L365.5 -0.04L366.7 0.13L367.9 -0.07L369.1 -0.17L370.3 -0.19L371.5 0.04L372.7 0.13L373.9 0.06L375.1 0.03L376.3 -0.15L377.5 -0.03L378.7 -0.03L379.9 0L381.1 -0.02L382.3 -0.02L383.5 -0.06L384.7 -0.11L385.9 -0.07L387.1 -0.14L388.3 -0.05L389.5 0.07L390.7 0.15L391.9 0.09L393.1 -0.05L394.3 -0.09L395.5 -0.05L396.7 0.03L397.9 0.12L399.1 -0.11L400.3 -0.04L401.5 0.07L402.7 0.16L403.9 0.12L405.1 0L406.3 -0.02L407.5 0.12L408.7 0.15L409.9 0.13L411.1 0.07L412.3 0.11L413.5 0.03L414.7 0.08L415.9 -0.12L417.1 -0.06L418.3 0.15L419.5 0.28L420.7 0.23L421.9 -0.12L423.1 -0.12L424.3 -0.07L425.5 -0.06L426.7 -0.16L427.9 -0.05L429.1 -0.05L430.3 0.01L431.5 0.1L432.7 0.01L433.9 -0.06L435.1 -0.11L436.3 0.11L437.5 0.1L438.7 -0.01L439.9 -0.01L441.1 0.03L442.3 0L443.5 -0.12L444.7 0.08L445.9 0.02L447.1 -0.04L448.3 0.09L449.5 -0.03L450.7 0.05L451.9 -0.12L453.1 -0.1L454.3 -0.1L455.5 0.02L456.7 0.18L457.9 0.02L459.1 -0.05L460.3 0.03L461.5 -0.01L462.7 -0.14L463.9 -0.16L465.1 -0.1L466.3 0L467.5 0.19L468.7 -0.13L469.9 -0.07L471.1 0.1L472.3 0.17L473.5 -0.07L474.7 -0.1L475.9 -0.16L477.1 0.07L478.3 0.14L479.5 -0.09L480.7 -0.27L481.9 -0.08L483.1 -0.04L484.3 -0.02"/>
<path id="wg2" d="M325.9 0.08L327.1 -0.02L328.3 0.11L329.5 -0.05L330.7 0.02L331.9 0L333.1 0.07L334.3 -0.01L335.5 -0.12L336.7 0L337.9 0.02L339.1 0.06L340.3 0.01L341.5 0.07L342.7 0.01L343.9 0.02L345.1 0.01L346.3 -0.11L347.5 -0.11L348.7 0.02L349.9 -0.08L351.1 -0.1L352.3 -0.02L353.5 0.07L354.7 0L355.9 -0.04L357.1 -0.19L358.3 -0.26L359.5 -0.11L360.7 0.04L361.9 0.06L363.1 -0.09L364.3 -0.12L365.5 0.14L366.7 0.11L367.9 -0.02L369.1 -0.01L370.3 0.04L371.5 0.03L372.7 -0.12L373.9 0.01L375.1 -0.06L376.3 -0.07L377.5 -0.02L378.7 -0.02L379.9 0L381.1 -0.07L382.3 0.05L383.5 -0.02L384.7 -0.16L385.9 0.01L387.1 0.13L388.3 0.2L389.5 0.12L390.7 -0.03L391.9 0.1L393.1 0.16L394.3 0.01L395.5 0.03L396.7 0.11L397.9 0.05L399.1 0.16L400.3 0.16L401.5 0.14L402.7 -0.02L403.9 0L405.1 0L406.3 -0.04L407.5 0.01L408.7 0.05L409.9 -0.08L411.1 0.07L412.3 0.06L413.5 0.21L414.7 0.05L415.9 0.11L417.1 -0.03L418.3 0.02L419.5 0.09L420.7 0.14L421.9 0L423.1 -0.1L424.3 -0.02L425.5 -0.07L426.7 -0.05L427.9 0.04L429.1 0.02L430.3 -0.03L431.5 -0.15L432.7 -0.17L433.9 -0.11L435.1 -0.15L436.3 0.05L437.5 -0.01L438.7 -0.06L439.9 0.14L441.1 0.06L442.3 0.03L443.5 -0.11L444.7 -0.17L445.9 -0.05L447.1 0.05L448.3 0.08L449.5 0.09L450.7 0.1L451.9 0.07L453.1 -0.08L454.3 -0.09L455.5 -0.05L456.7 0.03L457.9 -0.05L459.1 -0.07L460.3 -0.07L461.5 -0.09L462.7 0.14L463.9 0.1L465.1 0.08L466.3 0.06L467.5 0.06L468.7 0.11L469.9 -0.05L471.1 -0.04L472.3 -0.06L473.5 0.1L474.7 0.05L475.9 -0.01L477.1 0.11L478.3 -0.02L479.5 -0.1L480.7 -0.03L481.9 0.04L483.1 0.05L484.3 -0.05"/>
<path id="wg3" d="M325.9 0.02L327.1 0.11L328.3 0.09L329.5 -0.18L330.7 -0.2L331.9 -0.05L333.1 -0.04L334.3 0.18L335.5 0.08L336.7 0.08L337.9 -0.09L339.1 -0.19L340.3 -0.2L341.5 -0.07L342.7 0.08L343.9 0L345.1 0.07L346.3 -0.02L347.5 0.02L348.7 -0.04L349.9 -0.09L351.1 -0.13L352.3 -0.17L353.5 -0.02L354.7 -0.04L355.9 -0.1L357.1 0.09L358.3 0.09L359.5 -0.09L360.7 0.01L361.9 0.01L363.1 -0.02L364.3 0L365.5 0.13L366.7 0.02L367.9 0.03L369.1 0.03L370.3 -0.03L371.5 -0.04L372.7 0.07L373.9 0.08L375.1 0.02L376.3 0L377.5 -0.09L378.7 0.03L379.9 -0.12L381.1 -0.01L382.3 -0.02L383.5 -0.07L384.7 0.03L385.9 0.07L387.1 -0.06L388.3 -0.04L389.5 -0.16L390.7 -0.04L391.9 -0.09L393.1 -0.05L394.3 -0.01L395.5 -0.04L396.7 -0.06L397.9 -0.16L399.1 -0.11L400.3 -0.02L401.5 -0.1L402.7 -0.08L403.9 0.06L405.1 -0.03L406.3 -0.04L407.5 0.01L408.7 -0.12L409.9 -0.01L411.1 0.03L412.3 -0.07L413.5 -0.08L414.7 -0.02L415.9 -0.13L417.1 -0.13L418.3 -0.01L419.5 0.1L420.7 0.06L421.9 0.06L423.1 -0.13L424.3 -0.11L425.5 -0.09L426.7 0.09L427.9 0.01L429.1 0.07L430.3 -0.11L431.5 -0.05L432.7 0.09L433.9 0.13L435.1 0.09L436.3 -0.04L437.5 0.07L438.7 -0.12L439.9 0.04L441.1 0.08L442.3 0.11L443.5 0.08L444.7 -0.02L445.9 -0.03L447.1 0.03L448.3 0.02L449.5 -0.06L450.7 0.01L451.9 -0.13L453.1 -0.09L454.3 -0.08L455.5 -0.01L456.7 0.12L457.9 0.1L459.1 -0.12L460.3 -0.18L461.5 -0.21L462.7 -0.02L463.9 0.05L465.1 0.02L466.3 0.01L467.5 0.07L468.7 -0.05L469.9 -0.02L471.1 0.02L472.3 0.03L473.5 0.06L474.7 0L475.9 -0.1L477.1 -0.07L478.3 -0.09L479.5 -0.05L480.7 -0.06L481.9 0.11L483.1 0.01L484.3 -0.12"/>
<path id="wg4" d="M325.9 -0.07L327.1 -0.11L328.3 0.06L329.5 0.07L330.7 -0.09L331.9 0.09L333.1 0.18L334.3 0.11L335.5 0.15L336.7 0.15L337.9 -0.09L339.1 0L340.3 -0.02L341.5 0.05L342.7 0.18L343.9 0L345.1 0.01L346.3 -0.01L347.5 -0.18L348.7 -0.14L349.9 0.08L351.1 0.08L352.3 0.1L353.5 0.16L354.7 0.17L355.9 0.1L357.1 0.09L358.3 0.19L359.5 0.05L360.7 0.03L361.9 0.05L363.1 0.2L364.3 0.09L365.5 0L366.7 0.07L367.9 -0.05L369.1 -0.18L370.3 -0.08L371.5 -0.05L372.7 -0.15L373.9 -0.19L375.1 -0.06L376.3 0.04L377.5 -0.15L378.7 -0.01L379.9 -0.03L381.1 -0.01L382.3 -0.12L383.5 -0.06L384.7 0.05L385.9 -0.03L387.1 -0.03L388.3 0.12L389.5 -0.05L390.7 -0.13L391.9 0L393.1 0.12L394.3 0.14L395.5 -0.03L396.7 0.07L397.9 0L399.1 0.01L400.3 0.1L401.5 -0.01L402.7 -0.07L403.9 0.02L405.1 -0.02L406.3 0.06L407.5 0.09L408.7 -0.01L409.9 0.14L411.1 -0.09L412.3 -0.16L413.5 -0.17L414.7 -0.07L415.9 -0.1L417.1 -0.16L418.3 0.08L419.5 -0.04L420.7 -0.06L421.9 -0.02L423.1 0.13L424.3 0.12L425.5 0.03L426.7 -0.06L427.9 0.08L429.1 -0.11L430.3 0.08L431.5 0.05L432.7 -0.04L433.9 -0.16L435.1 -0.11L436.3 0.06L437.5 0.09L438.7 0.1L439.9 0.17L441.1 0.02L442.3 -0.09L443.5 -0.1L444.7 -0.03L445.9 0.06L447.1 0.1L448.3 -0.05L449.5 0.14L450.7 0.15L451.9 0.06L453.1 0.14L454.3 0.11L455.5 -0.14L456.7 -0.07L457.9 0.11L459.1 0.14L460.3 0.19L461.5 0.07L462.7 0.12L463.9 -0.04L465.1 0.02L466.3 -0.1L467.5 -0.05L468.7 -0.13L469.9 0.12L471.1 0.18L472.3 -0.07L473.5 -0.1L474.7 -0.12L475.9 -0.06L477.1 -0.08L478.3 -0.15L479.5 0.14L480.7 0.21L481.9 0.1L483.1 0.13L484.3 -0.01"/>
<path id="wg5" d="M325.9 -0.02L327.1 -0.08L328.3 0.03L329.5 -0.08L330.7 -0.14L331.9 -0.14L333.1 -0.13L334.3 -0.09L335.5 -0.09L336.7 0.03L337.9 0.02L339.1 0L340.3 0.1L341.5 0.14L342.7 0.03L343.9 0.03L345.1 0.03L346.3 -0.02L347.5 0.05L348.7 0.08L349.9 0.17L351.1 -0.01L352.3 0.01L353.5 0.1L354.7 0.04L355.9 0.15L357.1 -0.01L358.3 0.08L359.5 -0.04L360.7 0.03L361.9 -0.02L363.1 -0.01L364.3 -0.1L365.5 -0.13L366.7 0.02L367.9 0.07L369.1 0.13L370.3 0.03L371.5 0L372.7 0.09L373.9 -0.13L375.1 -0.13L376.3 -0.04L377.5 0L378.7 0.07L379.9 0.2L381.1 0.18L382.3 0.02L383.5 0L384.7 -0.03L385.9 -0.01L387.1 -0.03L388.3 -0.13L389.5 0L390.7 0.03L391.9 -0.04L393.1 -0.02L394.3 -0.04L395.5 -0.13L396.7 -0.04L397.9 0.11L399.1 0.16L400.3 0.1L401.5 0.11L402.7 0.01L403.9 0.01L405.1 0.12L406.3 -0.04L407.5 -0.03L408.7 -0.04L409.9 -0.07L411.1 -0.04L412.3 -0.12L413.5 0.01L414.7 0.1L415.9 -0.08L417.1 -0.15L418.3 -0.09L419.5 0.11L420.7 0.04L421.9 0.12L423.1 -0.06L424.3 -0.05L425.5 -0.01L426.7 0.03L427.9 -0.09L429.1 0.1L430.3 0.13L431.5 0.04L432.7 0.12L433.9 0.09L435.1 -0.04L436.3 -0.05L437.5 0.03L438.7 -0.03L439.9 -0.13L441.1 -0.1L442.3 -0.09L443.5 -0.02L444.7 -0.01L445.9 -0.06L447.1 -0.04L448.3 0.16L449.5 0.08L450.7 0.1L451.9 -0.06L453.1 -0.07L454.3 -0.16L455.5 -0.18L456.7 -0.11L457.9 -0.13L459.1 -0.06L460.3 0.06L461.5 0.09L462.7 0.15L463.9 0.05L465.1 -0.14L466.3 -0.08L467.5 -0.13L468.7 0.01L469.9 0.18L471.1 0.15L472.3 0.04L473.5 -0.02L474.7 -0.03L475.9 -0.08L477.1 -0.15L478.3 -0.09L479.5 -0.01L480.7 0.06L481.9 0.08L483.1 0.16L484.3 0.17"/>
<path id="wg6" d="M325.9 0.12L327.1 0.17L328.3 0.01L329.5 -0.01L330.7 0.08L331.9 0.09L333.1 -0.05L334.3 -0.07L335.5 0.06L336.7 -0.11L337.9 -0.09L339.1 0.05L340.3 0.18L341.5 0.23L342.7 0.08L343.9 0.07L345.1 0.08L346.3 -0.07L347.5 -0.12L348.7 -0.08L349.9 0.1L351.1 0L352.3 0.03L353.5 0.11L354.7 -0.08L355.9 -0.02L357.1 -0.01L358.3 0.13L359.5 0.06L360.7 0.01L361.9 0.09L363.1 0.09L364.3 -0.04L365.5 0.12L366.7 0.07L367.9 0.16L369.1 0.13L370.3 -0.04L371.5 -0.11L372.7 -0.12L373.9 -0.04L375.1 0.01L376.3 0L377.5 0.07L378.7 -0.16L379.9 -0.12L381.1 -0.08L382.3 0.04L383.5 0.09L384.7 0.2L385.9 0.04L387.1 -0.12L388.3 -0.06L389.5 -0.1L390.7 0.12L391.9 0.2L393.1 0.14L394.3 0.11L395.5 -0.1L396.7 -0.11L397.9 -0.07L399.1 0L400.3 0.07L401.5 0.09L402.7 0.06L403.9 -0.19L405.1 -0.17L406.3 -0.22L407.5 0.07L408.7 0.13L409.9 0.16L411.1 0.05L412.3 0.04L413.5 0L414.7 0.05L415.9 0.04L417.1 -0.01L418.3 0.07L419.5 -0.09L420.7 -0.01L421.9 -0.1L423.1 0.02L424.3 -0.04L425.5 0.09L426.7 -0.01L427.9 -0.15L429.1 -0.2L430.3 -0.07L431.5 -0.09L432.7 0.01L433.9 0.17L435.1 0.27L436.3 0.06L437.5 0.03L438.7 0L439.9 0.02L441.1 -0.04L442.3 0.01L443.5 0.12L444.7 0L445.9 -0.01L447.1 0.01L448.3 0.09L449.5 -0.02L450.7 0.06L451.9 -0.05L453.1 -0.13L454.3 -0.1L455.5 -0.03L456.7 0.03L457.9 0.17L459.1 0.04L460.3 0.06L461.5 0.01L462.7 -0.11L463.9 0.02L465.1 -0.12L466.3 -0.1L467.5 -0.13L468.7 0.02L469.9 0.07L471.1 -0.04L472.3 0.1L473.5 0.07L474.7 -0.06L475.9 0.08L477.1 0.09L478.3 -0.05L479.5 0.07L480.7 -0.05L481.9 -0.01L483.1 0.02L484.3 0.14"/>
<path id="wg7" d="M325.9 -0.09L327.1 -0.17L328.3 -0.19L329.5 0.02L330.7 0.12L331.9 0.18L333.1 -0.05L334.3 -0.06L335.5 -0.12L336.7 -0.06L337.9 0.1L339.1 0.1L340.3 0.05L341.5 0.06L342.7 -0.08L343.9 0.08L345.1 0.04L346.3 -0.12L347.5 -0.09L348.7 0.04L349.9 0.13L351.1 0.06L352.3 0.01L353.5 0.14L354.7 -0.01L355.9 -0.15L357.1 -0.14L358.3 -0.06L359.5 0.03L360.7 -0.09L361.9 -0.08L363.1 0.01L364.3 -0.06L365.5 -0.11L366.7 0.03L367.9 0.04L369.1 0.11L370.3 0.05L371.5 0.06L372.7 -0.05L373.9 0.05L375.1 0.1L376.3 0.14L377.5 0.1L378.7 0.09L379.9 -0.01L381.1 -0.12L382.3 0.07L383.5 0.11L384.7 0.08L385.9 0.05L387.1 -0.03L388.3 0.13L389.5 0.14L390.7 0.28L391.9 0.02L393.1 -0.09L394.3 -0.12L395.5 -0.01L396.7 0.04L397.9 0.16L399.1 0.05L400.3 0.02L401.5 0.04L402.7 0.04L403.9 -0.05L405.1 0.08L406.3 -0.11L407.5 -0.16L408.7 -0.22L409.9 -0.01L411.1 -0.04L412.3 0.08L413.5 -0.1L414.7 -0.16L415.9 -0.02L417.1 0.15L418.3 0.01L419.5 0.07L420.7 -0.05L421.9 -0.07L423.1 -0.2L424.3 -0.19L425.5 -0.12L426.7 0.12L427.9 0.07L429.1 0.06L430.3 -0.08L431.5 0L432.7 0.07L433.9 -0.1L435.1 0.01L436.3 0.1L437.5 0.21L438.7 0.14L439.9 0.12L441.1 0L442.3 0.05L443.5 -0.05L444.7 -0.01L445.9 0L447.1 0.11L448.3 0.12L449.5 -0.02L450.7 -0.04L451.9 -0.03L453.1 -0.07L454.3 -0.02L455.5 -0.09L456.7 0.02L457.9 0.03L459.1 -0.04L460.3 -0.03L461.5 -0.08L462.7 0.09L463.9 -0.01L465.1 0.17L466.3 0.12L467.5 0L468.7 -0.16L469.9 -0.05L471.1 0.07L472.3 0L473.5 0.04L474.7 0L475.9 -0.1L477.1 0.11L478.3 0.06L479.5 0.04L480.7 0.03L481.9 0.02L483.1 0.03L484.3 -0.03"/>
<path id="wg8" d="M325.9 0.12L327.1 0.1L328.3 0.03L329.5 -0.11L330.7 -0.08L331.9 -0.03L333.1 -0.11L334.3 0.08L335.5 0L336.7 0.02L337.9 -0.01L339.1 -0.03L340.3 -0.1L341.5 0.01L342.7 -0.12L343.9 -0.05L345.1 0.04L346.3 0.01L347.5 -0.08L348.7 -0.07L349.9 -0.13L351.1 -0.06L352.3 0L353.5 0.09L354.7 0.02L355.9 -0.03L357.1 -0.02L358.3 -0.13L359.5 -0.07L360.7 -0.08L361.9 0.08L363.1 0.11L364.3 0.1L365.5 0.1L366.7 0.07L367.9 0.13L369.1 -0.04L370.3 0.08L371.5 -0.01L372.7 -0.03L373.9 0.01L375.1 0.16L376.3 0.2L377.5 0.16L378.7 -0.01L379.9 -0.12L381.1 -0.16L382.3 -0.07L383.5 -0.01L384.7 -0.09L385.9 -0.08L387.1 0.17L388.3 0.04L389.5 -0.14L390.7 -0.11L391.9 -0.17L393.1 0.01L394.3 0.01L395.5 0.04L396.7 0.14L397.9 -0.02L399.1 -0.06L400.3 0.04L401.5 0.02L402.7 -0.01L403.9 -0.02L405.1 0.03L406.3 0.1L407.5 0.12L408.7 0.14L409.9 0.2L411.1 0.01L412.3 -0.11L413.5 0.03L414.7 -0.06L415.9 0L417.1 0L418.3 0.11L419.5 0L420.7 -0.11L421.9 -0.12L423.1 0.06L424.3 0.1L425.5 -0.05L426.7 0.14L427.9 0.07L429.1 0.1L430.3 0.02L431.5 0.03L432.7 -0.05L433.9 -0.14L435.1 0L436.3 0.13L437.5 0.05L438.7 0.13L439.9 0.06L441.1 -0.02L442.3 -0.09L443.5 -0.16L444.7 -0.09L445.9 0.09L447.1 0.08L448.3 0.12L449.5 -0.02L450.7 0L451.9 0.06L453.1 -0.01L454.3 -0.18L455.5 -0.04L456.7 -0.15L457.9 0L459.1 0.17L460.3 0.05L461.5 -0.02L462.7 -0.04L463.9 0L465.1 0.11L466.3 -0.09L467.5 -0.13L468.7 0.06L469.9 -0.01L471.1 0.06L472.3 0.07L473.5 -0.12L474.7 -0.16L475.9 0.04L477.1 0.15L478.3 0.09L479.5 -0.01L480.7 -0.13L481.9 -0.04L483.1 -0.1L484.3 -0.08"/>
<path id="wg9" d="M325.9 0.16L327.1 0.01L328.3 -0.06L329.5 0.11L330.7 -0.07L331.9 -0.01L333.1 0.04L334.3 0.13L335.5 0.08L336.7 0.02L337.9 -0.09L339.1 -0.11L340.3 -0.16L341.5 -0.14L342.7 -0.08L343.9 0.05L345.1 -0.04L346.3 0.08L347.5 0.04L348.7 0.07L349.9 -0.1L351.1 0L352.3 -0.02L353.5 0.03L354.7 -0.03L355.9 0.09L357.1 -0.01L358.3 -0.05L359.5 -0.09L360.7 -0.02L361.9 0.08L363.1 -0.04L364.3 0.19L365.5 0.19L366.7 0L367.9 -0.1L369.1 -0.02L370.3 0.05L371.5 -0.14L372.7 0.07L373.9 0.12L375.1 -0.07L376.3 0.04L377.5 -0.05L378.7 -0.19L379.9 -0.13L381.1 -0.07L382.3 0.05L383.5 0.02L384.7 -0.02L385.9 0.15L387.1 -0.12L388.3 -0.03L389.5 -0.05L390.7 0.1L391.9 0.03L393.1 0.01L394.3 -0.01L395.5 0.11L396.7 0.1L397.9 0.16L399.1 0.06L400.3 0.07L401.5 0.11L402.7 0.15L403.9 0.06L405.1 0.04L406.3 -0.02L407.5 0.06L408.7 -0.02L409.9 0.06L411.1 0.16L412.3 0.15L413.5 -0.03L414.7 -0.03L415.9 -0.08L417.1 -0.09L418.3 -0.16L419.5 -0.12L420.7 0.02L421.9 -0.11L423.1 0.11L424.3 0.22L425.5 0.15L426.7 -0.05L427.9 -0.1L429.1 -0.07L430.3 -0.02L431.5 0.13L432.7 -0.03L433.9 -0.11L435.1 0.04L436.3 -0.1L437.5 0.06L438.7 -0.1L439.9 0.06L441.1 0.02L442.3 0.04L443.5 0.13L444.7 0.18L445.9 0.05L447.1 -0.04L448.3 0.02L449.5 -0.07L450.7 -0.08L451.9 0.09L453.1 0.19L454.3 0.17L455.5 -0.01L456.7 -0.06L457.9 -0.12L459.1 0.01L460.3 -0.14L461.5 -0.1L462.7 -0.13L463.9 -0.05L465.1 0.14L466.3 -0.04L467.5 -0.13L468.7 -0.18L469.9 0L471.1 0L472.3 -0.07L473.5 0.06L474.7 0.17L475.9 -0.06L477.1 -0.2L478.3 -0.09L479.5 0.1L480.7 -0.11L481.9 -0.13L483.1 0.06L484.3 0.11"/>
<path id="wg10" d="M325.9 0.03L327.1 0.12L328.3 0.09L329.5 0.14L330.7 -0.05L331.9 -0.11L333.1 -0.02L334.3 -0.11L335.5 0.09L336.7 -0.06L337.9 -0.07L339.1 0.06L340.3 0.04L341.5 0.14L342.7 -0.02L343.9 -0.02L345.1 0.04L346.3 -0.04L347.5 -0.16L348.7 0.02L349.9 0.02L351.1 0.18L352.3 0.04L353.5 0.09L354.7 -0.07L355.9 0.01L357.1 0.09L358.3 0.04L359.5 0L360.7 0.13L361.9 0.15L363.1 0.11L364.3 -0.01L365.5 -0.04L366.7 0.07L367.9 -0.06L369.1 -0.15L370.3 -0.08L371.5 0.01L372.7 -0.15L373.9 0.01L375.1 0.19L376.3 0.28L377.5 0.05L378.7 -0.05L379.9 0.1L381.1 0.12L382.3 -0.12L383.5 -0.18L384.7 -0.02L385.9 -0.1L387.1 -0.15L388.3 -0.14L389.5 0.02L390.7 0.05L391.9 0.15L393.1 -0.03L394.3 0.08L395.5 0.05L396.7 -0.11L397.9 -0.11L399.1 -0.01L400.3 -0.03L401.5 0.2L402.7 0.13L403.9 0.09L405.1 0.13L406.3 -0.13L407.5 -0.19L408.7 -0.25L409.9 -0.03L411.1 -0.07L412.3 0.03L413.5 0.08L414.7 0.2L415.9 0.04L417.1 0.02L418.3 0.09L419.5 0.02L420.7 -0.11L421.9 -0.08L423.1 -0.04L424.3 -0.05L425.5 0.01L426.7 -0.01L427.9 0.03L429.1 0.14L430.3 0.02L431.5 0.08L432.7 -0.09L433.9 -0.08L435.1 0.06L436.3 0.15L437.5 0.14L438.7 0.03L439.9 0.02L441.1 -0.07L442.3 -0.01L443.5 0.09L444.7 -0.02L445.9 -0.06L447.1 -0.19L448.3 -0.14L449.5 -0.07L450.7 0.14L451.9 0.13L453.1 0.19L454.3 0.02L455.5 0L456.7 0.01L457.9 -0.17L459.1 -0.05L460.3 0.06L461.5 -0.07L462.7 -0.1L463.9 0.03L465.1 -0.09L466.3 -0.02L467.5 -0.06L468.7 -0.04L469.9 0.13L471.1 0.06L472.3 0.1L473.5 0.09L474.7 0.04L475.9 -0.08L477.1 -0.08L478.3 0.09L479.5 -0.02L480.7 0.02L481.9 -0.11L483.1 -0.02L484.3 0.06"/>
<path id="wg11" d="M325.9 0L327.1 0.01L328.3 -0.08L329.5 0.02L330.7 0.18L331.9 0.14L333.1 -0.04L334.3 0.04L335.5 0L336.7 -0.14L337.9 -0.03L339.1 0.11L340.3 0.11L341.5 0.21L342.7 0.12L343.9 -0.09L345.1 -0.02L346.3 0.04L347.5 0.1L348.7 0.1L349.9 0.16L351.1 0.15L352.3 0.05L353.5 -0.09L354.7 -0.12L355.9 -0.15L357.1 0.07L358.3 0.12L359.5 0.15L360.7 0.11L361.9 0L363.1 -0.01L364.3 -0.14L365.5 -0.12L366.7 -0.03L367.9 -0.09L369.1 -0.05L370.3 -0.02L371.5 -0.13L372.7 -0.17L373.9 -0.2L375.1 -0.09L376.3 0.08L377.5 0.05L378.7 0.11L379.9 0.12L381.1 0.12L382.3 0.09L383.5 0L384.7 -0.15L385.9 -0.15L387.1 -0.1L388.3 -0.05L389.5 0.04L390.7 0.04L391.9 -0.03L393.1 -0.11L394.3 0L395.5 0.1L396.7 0.06L397.9 -0.08L399.1 0.04L400.3 0.12L401.5 0.09L402.7 0.09L403.9 0.13L405.1 0.02L406.3 0.03L407.5 -0.11L408.7 0.03L409.9 0.03L411.1 -0.05L412.3 0.05L413.5 0.13L414.7 0.04L415.9 -0.04L417.1 0.02L418.3 0.12L419.5 0.14L420.7 -0.01L421.9 -0.01L423.1 -0.04L424.3 -0.09L425.5 0L426.7 -0.03L427.9 0.01L429.1 0.1L430.3 0.03L431.5 0.1L432.7 -0.1L433.9 -0.16L435.1 -0.17L436.3 0.03L437.5 0.03L438.7 0.01L439.9 0.07L441.1 0.14L442.3 0.05L443.5 0.05L444.7 0.06L445.9 0.02L447.1 -0.02L448.3 0.14L449.5 0.05L450.7 -0.06L451.9 -0.07L453.1 -0.02L454.3 -0.04L455.5 -0.08L456.7 -0.14L457.9 -0.11L459.1 0.02L460.3 0.04L461.5 0.04L462.7 0.08L463.9 0.05L465.1 0.12L466.3 0.15L467.5 0.05L468.7 -0.05L469.9 -0.06L471.1 -0.13L472.3 -0.14L473.5 0.05L474.7 0.08L475.9 -0.02L477.1 0.01L478.3 -0.06L479.5 -0.22L480.7 -0.31L481.9 -0.16L483.1 0.01L484.3 0.15"/>
</defs>
<!-- panel a -->
<text x="2.7" y="7.1" font-size="12" fill="#000" stroke="#000" font-weight="bold">a.</text>
<text x="184.6" y="7.6" font-size="10.3" fill="#0c0c0c" stroke="#0c0c0c" text-anchor="middle">Sample sine wave</text>
<path d="M55.2 48.18C55.7 47.39 57.2 44.99 58.2 43.43C59.2 41.86 60.2 40.31 61.2 38.81C62.2 37.3 63.2 35.82 64.2 34.41C65.2 32.99 66.2 31.61 67.2 30.31C68.2 29.01 69.2 27.76 70.2 26.6C71.2 25.44 72.2 24.34 73.2 23.34C74.2 22.33 75.2 21.41 76.2 20.59C77.2 19.77 78.2 19.03 79.2 18.4C80.2 17.78 81.2 17.25 82.2 16.83C83.2 16.41 84.2 16.09 85.2 15.89C86.2 15.68 87.2 15.59 88.2 15.6C89.2 15.62 90.2 15.74 91.2 15.98C92.2 16.21 93.2 16.55 94.2 17C95.2 17.45 96.2 18.01 97.2 18.66C98.2 19.31 99.2 20.08 100.2 20.92C101.2 21.77 102.2 22.72 103.2 23.74C104.2 24.77 105.2 25.89 106.2 27.07C107.2 28.25 108.2 29.52 109.2 30.84C110.2 32.16 111.2 33.55 112.2 34.98C113.2 36.41 114.2 37.9 115.2 39.41C116.2 40.92 117.2 42.49 118.2 44.05C119.2 45.62 120.2 47.23 121.2 48.82C122.2 50.41 123.2 52.03 124.2 53.62C125.2 55.21 126.2 56.8 127.2 58.36C128.2 59.91 129.2 61.45 130.2 62.94C131.2 64.44 132.2 65.9 133.2 67.3C134.2 68.7 135.2 70.06 136.2 71.34C137.2 72.62 138.2 73.84 139.2 74.98C140.2 76.12 141.2 77.19 142.2 78.16C143.2 79.13 144.2 80.03 145.2 80.82C146.2 81.61 147.2 82.31 148.2 82.9C149.2 83.49 150.2 83.99 151.2 84.37C152.2 84.76 153.2 85.04 154.2 85.21C155.2 85.37 156.2 85.43 157.2 85.38C158.2 85.33 159.2 85.17 160.2 84.9C161.2 84.63 162.2 84.25 163.2 83.77C164.2 83.28 165.2 82.69 166.2 82C167.2 81.32 168.2 80.52 169.2 79.65C170.2 78.77 171.2 77.79 172.2 76.74C173.2 75.68 174.2 74.54 175.2 73.33C176.2 72.13 177.2 70.84 178.2 69.5C179.2 68.16 180.2 66.75 181.2 65.3C182.2 63.86 183.2 62.35 184.2 60.83C185.2 59.3 186.2 57.73 187.2 56.16C188.2 54.58 189.2 52.98 190.2 51.38C191.2 49.79 192.2 48.17 193.2 46.59C194.2 45 195.2 43.41 196.2 41.87C197.2 40.32 198.2 38.79 199.2 37.31C200.2 35.83 201.2 34.38 202.2 33C203.2 31.62 204.2 30.29 205.2 29.03C206.2 27.77 207.2 26.57 208.2 25.46C209.2 24.35 210.2 23.3 211.2 22.36C212.2 21.42 213.2 20.55 214.2 19.79C215.2 19.04 216.2 18.37 217.2 17.81C218.2 17.25 219.2 16.79 220.2 16.44C221.2 16.09 222.2 15.85 223.2 15.72C224.2 15.59 225.2 15.57 226.2 15.65C227.2 15.74 228.2 15.94 229.2 16.25C230.2 16.55 231.2 16.97 232.2 17.49C233.2 18 234.2 18.63 235.2 19.35C236.2 20.07 237.2 20.89 238.2 21.8C239.2 22.71 240.2 23.72 241.2 24.8C242.2 25.88 243.2 27.05 244.2 28.28C245.2 29.51 246.2 30.82 247.2 32.18C248.2 33.54 249.2 34.97 250.2 36.43C251.2 37.89 252.2 39.41 253.2 40.94C254.2 42.47 255.2 44.05 256.2 45.63C257.2 47.21 258.2 48.82 259.2 50.42C260.2 52.02 261.2 53.63 262.2 55.21C263.2 56.79 264.2 58.37 265.2 59.91C266.2 61.44 267.2 62.96 268.2 64.43C269.2 65.89 270.2 67.32 271.2 68.68C272.2 70.05 273.2 71.36 274.2 72.6C275.2 73.83 276.2 75.01 277.2 76.09C278.2 77.18 279.2 78.19 280.2 79.11C281.2 80.02 282.2 80.85 283.2 81.58C284.2 82.3 285.2 82.94 286.2 83.46C287.2 83.99 288.2 84.41 289.2 84.72C290.2 85.04 291.2 85.24 292.2 85.34C293.2 85.43 294.2 85.42 295.2 85.29C296.2 85.17 297.2 84.93 298.2 84.59C299.2 84.25 300.2 83.8 301.2 83.25C302.2 82.69 303.2 82.03 304.2 81.28C305.2 80.53 306.2 79.67 307.2 78.73C308.2 77.8 309.2 76.76 310.2 75.65C311.2 74.55 312.2 73.35 313.2 72.1C314.2 70.85 315.2 69.51 316.2 68.13C317.2 66.76 318.2 65.31 319.2 63.84C320.2 62.36 321.2 60.83 322.2 59.29C323.2 57.74 324.2 56.16 325.2 54.57C326.2 52.99 327.7 50.58 328.2 49.78" fill="none" stroke="#0072bd" stroke-width="0.95"/>
<rect x="54.6" y="12.6" width="275" height="76.2" fill="none" stroke="#111" stroke-width="1.3"/>
<text x="35.2" y="49.4" font-size="10.5" fill="#0c0c0c" stroke="#0c0c0c" text-anchor="middle" transform="rotate(-90 35.2 49.4)">Amplitude</text>
<rect x="54.5" y="94.3" width="274.9" height="76.3" fill="#05061c"/>
<path d="M103.8 94.25H158.8V101.98H103.8ZM103.8 101.88H153.5V109.61H103.8ZM106.5 109.51H150.7V117.24H106.5ZM111.9 117.14H139.5V124.87H111.9ZM67.8 132.4H89.7V140.13H67.8ZM67.8 140.03H87V147.76H67.8ZM67.8 147.66H81.6V155.39H67.8ZM67.8 155.29H73.4V163.02H67.8ZM172.6 132.4H225.1V140.13H172.6ZM172.6 140.03H222.3V147.76H172.6ZM175.4 147.66H217V155.39H175.4ZM180.9 155.29H208.4V163.02H180.9ZM238.3 94.25H294V101.98H238.3ZM241.1 101.88H291.2V109.61H241.1ZM241.1 109.51H285.3V117.24H241.1ZM249.1 117.14H277.2V124.87H249.1ZM307.7 132.4H329.4V140.13H307.7ZM307.7 140.03H329.4V147.76H307.7ZM310.4 147.66H329.4V155.39H310.4ZM316.1 155.29H329.4V163.02H316.1Z" fill="#fbe9da"/>
<text x="13.3" y="101.5" font-size="10" fill="#0c0c0c" stroke="#0c0c0c">t-5(<tspan fill="#ee3b30" stroke="#ee3b30">-δ</tspan>)</text>
<text x="53.8" y="101.5" font-size="10" fill="#0c0c0c" stroke="#0c0c0c" text-anchor="end">10</text>
<text x="13.6" y="130.8" font-size="10" fill="#0c0c0c" stroke="#0c0c0c">t-1(<tspan fill="#ee3b30" stroke="#ee3b30">-δ</tspan>)</text>
<text x="51.5" y="130.8" font-size="10" fill="#0c0c0c" stroke="#0c0c0c" text-anchor="end">6</text>
<text x="13.3" y="139.8" font-size="10" fill="#0c0c0c" stroke="#0c0c0c">t-5(<tspan fill="#1f9a2e" stroke="#1f9a2e">+δ</tspan>)</text>
<text x="51.5" y="139.8" font-size="10" fill="#0c0c0c" stroke="#0c0c0c" text-anchor="end">5</text>
<text x="12.9" y="170.8" font-size="10" fill="#0c0c0c" stroke="#0c0c0c">t-1 (<tspan fill="#1f9a2e" stroke="#1f9a2e">+δ</tspan>)</text>
<text x="51.6" y="170.8" font-size="10" fill="#0c0c0c" stroke="#0c0c0c" text-anchor="end">1</text>
<text x="7.8" y="132.3" font-size="10.25" fill="#0c0c0c" stroke="#0c0c0c" text-anchor="middle" transform="rotate(-90 7.8 132.3)">Spike encoded input</text>
<text x="191.3" y="183.5" font-size="10" fill="#0c0c0c" stroke="#0c0c0c" text-anchor="middle">Time</text>
<!-- panel b -->
<text x="349.3" y="8.7" font-size="12" fill="#000" stroke="#000" font-weight="bold">b.</text>
<text x="535.5" y="9.9" font-size="10.5" fill="#0c0c0c" stroke="#0c0c0c" text-anchor="middle">Electrode channel</text>
<path d="M407.1 38.4C407.83 38.2 410.03 37.53 411.5 37.2C412.97 36.87 414.65 36.3 415.9 36.4C417.15 36.5 417.83 37.3 419 37.8C420.17 38.3 421.65 39.5 422.9 39.4C424.15 39.3 425.37 37.9 426.5 37.2C427.63 36.5 428.33 35.83 429.7 35.2C431.07 34.57 433.07 34.35 434.7 33.4C436.33 32.45 437.82 30.88 439.5 29.5C441.18 28.12 443.47 25.78 444.8 25.1C446.13 24.42 446.67 25.18 447.5 25.4C448.33 25.62 448.8 26.7 449.8 26.4C450.8 26.1 452.25 24.32 453.5 23.6C454.75 22.88 456.13 22.3 457.3 22.1C458.47 21.9 459.58 22.05 460.5 22.4C461.42 22.75 462.05 23.02 462.8 24.2C463.55 25.38 464.33 27.2 465 29.5C465.67 31.8 466.2 33.75 466.8 38C467.4 42.25 468 49.25 468.6 55C469.2 60.75 469.85 67.92 470.4 72.5C470.95 77.08 471.43 80.02 471.9 82.5C472.37 84.98 472.75 87.23 473.2 87.4C473.65 87.57 474.1 85.5 474.6 83.5C475.1 81.5 475.55 79.23 476.2 75.4C476.85 71.57 477.67 65.53 478.5 60.5C479.33 55.47 480.32 49.53 481.2 45.2C482.08 40.87 482.97 37.43 483.8 34.5C484.63 31.57 485.47 29.52 486.2 27.6C486.93 25.68 487.57 24.17 488.2 23C488.83 21.83 489.2 21.43 490 20.6C490.8 19.77 492.03 18.72 493 18C493.97 17.28 494.97 16.33 495.8 16.3C496.63 16.27 497.3 17.17 498 17.8C498.7 18.43 499.25 19.47 500 20.1C500.75 20.73 501.65 21.1 502.5 21.6C503.35 22.1 504.22 22.28 505.1 23.1C505.98 23.92 506.97 25.32 507.8 26.5C508.63 27.68 509.23 29.05 510.1 30.2C510.97 31.35 512.02 32.43 513 33.4C513.98 34.37 514.95 35.08 516 36C517.05 36.92 518.3 38.58 519.3 38.9C520.3 39.22 521.17 38.02 522 37.9C522.83 37.78 523.3 37.65 524.3 38.2C525.3 38.75 526.75 40.23 528 41.2C529.25 42.17 530.3 44.03 531.8 44C533.3 43.97 535.1 42.05 537 41C538.9 39.95 541.53 38.2 543.2 37.7C544.87 37.2 545.75 37.92 547 38C548.25 38.08 549.25 38.33 550.7 38.2C552.15 38.07 554.03 37.17 555.7 37.2C557.37 37.23 559.02 38.62 560.7 38.4C562.38 38.18 563.92 36.1 565.8 35.9C567.68 35.7 569.92 37.2 572 37.2C574.08 37.2 576.2 36.65 578.3 35.9C580.4 35.15 582.72 33.12 584.6 32.7C586.48 32.28 587.92 33.48 589.6 33.4C591.28 33.32 592.82 31.9 594.7 32.2C596.58 32.5 599.23 34.78 600.9 35.2C602.57 35.62 603.23 34.42 604.7 34.7C606.17 34.98 608.02 36.57 609.7 36.9C611.38 37.23 612.92 36.48 614.8 36.7C616.68 36.92 618.5 38.25 621 38.2C623.5 38.15 627.48 36.57 629.8 36.4C632.12 36.23 633.02 36.65 634.9 37.2C636.78 37.75 638.6 39.75 641.1 39.7C643.6 39.65 647.38 37.65 649.9 36.9C652.42 36.15 654.68 35.95 656.2 35.2C657.72 34.45 658.17 33.12 659 32.4C659.83 31.68 660.45 30.87 661.2 30.9C661.95 30.93 662.45 31.55 663.5 32.6C664.55 33.65 666.33 36.8 667.5 37.2C668.67 37.6 669.53 35.67 670.5 35C671.47 34.33 672.22 33.03 673.3 33.2C674.38 33.37 675.78 35.13 677 36C678.22 36.87 680 38 680.6 38.4" fill="none" stroke="#0072bd" stroke-width="1.15" stroke-linejoin="round"/>
<rect x="406.4" y="13.8" width="274.8" height="76" fill="none" stroke="#111" stroke-width="1.3"/>
<text x="392" y="49" font-size="10.5" fill="#0c0c0c" stroke="#0c0c0c" text-anchor="middle" transform="rotate(-90 392 49)">Amplitude</text>
<rect x="595.9" y="67.5" width="80.4" height="2.5" fill="#000"/>
<text x="634.9" y="81.7" font-size="10" fill="#0c0c0c" stroke="#0c0c0c" text-anchor="middle">1 ms</text>
<rect x="406.5" y="95.5" width="274.8" height="75.6" fill="#05061c"/>
<path d="M466.62 95.45H478.93V99.13H466.62ZM466.28 99.03H478.18V102.71H466.28ZM465.93 102.61H477.43V106.29H465.93ZM465.57 106.19H476.68V109.87H465.57ZM465.23 109.77H475.93V113.45H465.23ZM464.88 113.35H475.18V117.03H464.88ZM464.53 116.93H474.43V120.61H464.53ZM464.18 120.51H473.68V124.19H464.18ZM463.82 124.09H472.93V127.77H463.82ZM463.48 127.67H472.18V131.35H463.48ZM481.46 131.25H497.35V135.33H481.46ZM480.78 135.23H496.05V139.31H480.78ZM480.1 139.21H494.75V143.29H480.1ZM479.42 143.19H493.45V147.27H479.42ZM478.74 147.17H492.15V151.25H478.74ZM478.06 151.15H490.85V155.23H478.06ZM477.38 155.13H489.55V159.21H477.38ZM476.7 159.11H488.25V163.19H476.7ZM476.02 163.09H486.95V167.17H476.02ZM475.34 167.07H485.65V171.15H475.34Z" fill="#fbe9da"/>
<text x="358.9" y="103" font-size="10" fill="#0c0c0c" stroke="#0c0c0c">t-10(<tspan fill="#ee3b30" stroke="#ee3b30">-δ</tspan>)</text>
<text x="404.6" y="103" font-size="10" fill="#0c0c0c" stroke="#0c0c0c" text-anchor="end">20</text>
<text x="360.9" y="131.8" font-size="10" fill="#0c0c0c" stroke="#0c0c0c">t-1(<tspan fill="#ee3b30" stroke="#ee3b30">-δ</tspan>)</text>
<text x="403.8" y="131.8" font-size="10" fill="#0c0c0c" stroke="#0c0c0c" text-anchor="end">11</text>
<text x="358.6" y="140.9" font-size="10" fill="#0c0c0c" stroke="#0c0c0c">t-10(<tspan fill="#1f9a2e" stroke="#1f9a2e">+δ</tspan>)</text>
<text x="405.2" y="140.9" font-size="10" fill="#0c0c0c" stroke="#0c0c0c" text-anchor="end">10</text>
<text x="361.2" y="172.3" font-size="10" fill="#0c0c0c" stroke="#0c0c0c">t-1 (<tspan fill="#1f9a2e" stroke="#1f9a2e">+δ</tspan>)</text>
<text x="401.4" y="172.3" font-size="10" fill="#0c0c0c" stroke="#0c0c0c" text-anchor="end">1</text>
<text x="354.4" y="132.7" font-size="10.25" fill="#0c0c0c" stroke="#0c0c0c" text-anchor="middle" transform="rotate(-90 354.4 132.7)">Spike encoded input</text>
<text x="544.8" y="183.5" font-size="10" fill="#0c0c0c" stroke="#0c0c0c" text-anchor="middle">Time</text>
<rect x="595.9" y="175.2" width="80.4" height="2.5" fill="#000"/>
<text x="634.9" y="188.5" font-size="10" fill="#0c0c0c" stroke="#0c0c0c" text-anchor="middle">1 ms</text>
<!-- panel c -->
<text x="3" y="212.7" font-size="12" fill="#000" stroke="#000" font-weight="bold">c.</text>
<text x="26.4" y="213.6" font-size="10.36" fill="#0c0c0c" stroke="#0c0c0c">Positions of the generated neurons relative to the MEA grid</text>
<path d="M149.3 422.8L41.62 371.52M149.3 422.8L290.66 383.12M41.62 371.52L41.62 255.87M290.66 383.12L290.66 267.47M184.64 412.88L76.59 361.8M122.38 409.98L263.37 370.5M76.59 361.8L76.59 246.15M263.37 370.5L263.37 254.85M219.98 402.96L111.55 352.08M95.46 397.16L236.07 357.88M111.55 352.08L111.55 236.43M236.07 357.88L236.07 242.23M255.32 393.04L146.52 342.36M68.54 384.34L208.78 345.26M146.52 342.36L146.52 226.71M208.78 345.26L208.78 229.61M290.66 383.12L181.48 332.64M41.62 371.52L181.48 332.64M181.48 332.64L181.48 216.99M181.48 332.64L181.48 216.99M41.62 255.87L181.48 216.99M181.48 216.99L290.66 267.47M41.62 294.42L181.48 255.54M181.48 255.54L290.66 306.02M41.62 332.97L181.48 294.09M181.48 294.09L290.66 344.57M41.62 371.52L181.48 332.64M181.48 332.64L290.66 383.12" fill="none" stroke="#e7e7e7" stroke-width="0.7"/>
<path d="M41.62 255.87L41.62 371.52M41.62 371.52L149.3 422.8M149.3 422.8L290.66 383.12M41.62 255.87L39.02 254.97M41.62 294.42L39.02 293.52M41.62 332.97L39.02 332.07M41.62 371.52L39.02 370.62M149.3 422.8L146.9 423.5M149.3 422.8L151.1 423.7M122.38 409.98L119.98 410.68M184.64 412.88L186.44 413.78M95.46 397.16L93.06 397.86M219.98 402.96L221.78 403.86M68.54 384.34L66.14 385.04M255.32 393.04L257.12 393.94M41.62 371.52L39.22 372.22M290.66 383.12L292.46 384.02" fill="none" stroke="#858585" stroke-width="0.7"/>
<circle cx="149.5" cy="309.3" r="1.15" fill="none" stroke="#f4554f" stroke-width="0.55"/>
<circle cx="135.96" cy="302.73" r="1.15" fill="none" stroke="#f4554f" stroke-width="0.55"/>
<circle cx="122.42" cy="296.16" r="1.15" fill="none" stroke="#f4554f" stroke-width="0.55"/>
<circle cx="108.88" cy="289.59" r="1.15" fill="none" stroke="#f4554f" stroke-width="0.55"/>
<circle cx="95.34" cy="283.02" r="1.15" fill="none" stroke="#f4554f" stroke-width="0.55"/>
<circle cx="81.8" cy="276.45" r="1.15" fill="none" stroke="#f4554f" stroke-width="0.55"/>
<circle cx="68.26" cy="269.88" r="1.15" fill="none" stroke="#f4554f" stroke-width="0.55"/>
<circle cx="54.72" cy="263.31" r="1.15" fill="none" stroke="#f4554f" stroke-width="0.55"/>
<circle cx="167.01" cy="304.23" r="1.15" fill="none" stroke="#f4554f" stroke-width="0.55"/>
<circle cx="153.47" cy="297.66" r="1.15" fill="none" stroke="#f4554f" stroke-width="0.55"/>
<circle cx="139.93" cy="291.09" r="1.15" fill="none" stroke="#f4554f" stroke-width="0.55"/>
<circle cx="126.39" cy="284.52" r="1.15" fill="none" stroke="#f4554f" stroke-width="0.55"/>
<circle cx="112.85" cy="277.95" r="1.15" fill="none" stroke="#f4554f" stroke-width="0.55"/>
<circle cx="99.31" cy="271.38" r="1.15" fill="none" stroke="#f4554f" stroke-width="0.55"/>
<circle cx="85.77" cy="264.81" r="1.15" fill="none" stroke="#f4554f" stroke-width="0.55"/>
<circle cx="72.23" cy="258.24" r="1.15" fill="none" stroke="#f4554f" stroke-width="0.55"/>
<circle cx="184.52" cy="299.16" r="1.15" fill="none" stroke="#f4554f" stroke-width="0.55"/>
<circle cx="170.98" cy="292.59" r="1.15" fill="none" stroke="#f4554f" stroke-width="0.55"/>
<circle cx="157.44" cy="286.02" r="1.15" fill="none" stroke="#f4554f" stroke-width="0.55"/>
<circle cx="143.9" cy="279.45" r="1.15" fill="none" stroke="#f4554f" stroke-width="0.55"/>
<circle cx="130.36" cy="272.88" r="1.15" fill="none" stroke="#f4554f" stroke-width="0.55"/>
<circle cx="116.82" cy="266.31" r="1.15" fill="none" stroke="#f4554f" stroke-width="0.55"/>
<circle cx="103.28" cy="259.74" r="1.15" fill="none" stroke="#f4554f" stroke-width="0.55"/>
<circle cx="89.74" cy="253.17" r="1.15" fill="none" stroke="#f4554f" stroke-width="0.55"/>
<circle cx="202.03" cy="294.09" r="1.15" fill="none" stroke="#f4554f" stroke-width="0.55"/>
<circle cx="188.49" cy="287.52" r="1.15" fill="none" stroke="#f4554f" stroke-width="0.55"/>
<circle cx="174.95" cy="280.95" r="1.15" fill="none" stroke="#f4554f" stroke-width="0.55"/>
<circle cx="161.41" cy="274.38" r="1.15" fill="none" stroke="#f4554f" stroke-width="0.55"/>
<circle cx="147.87" cy="267.81" r="1.15" fill="none" stroke="#f4554f" stroke-width="0.55"/>
<circle cx="134.33" cy="261.24" r="1.15" fill="none" stroke="#f4554f" stroke-width="0.55"/>
<circle cx="120.79" cy="254.67" r="1.15" fill="none" stroke="#f4554f" stroke-width="0.55"/>
<circle cx="107.25" cy="248.1" r="1.15" fill="none" stroke="#f4554f" stroke-width="0.55"/>
<circle cx="219.54" cy="289.02" r="1.15" fill="none" stroke="#f4554f" stroke-width="0.55"/>
<circle cx="206" cy="282.45" r="1.15" fill="none" stroke="#f4554f" stroke-width="0.55"/>
<circle cx="192.46" cy="275.88" r="1.15" fill="none" stroke="#f4554f" stroke-width="0.55"/>
<circle cx="178.92" cy="269.31" r="1.15" fill="none" stroke="#f4554f" stroke-width="0.55"/>
<circle cx="165.38" cy="262.74" r="1.15" fill="none" stroke="#f4554f" stroke-width="0.55"/>
<circle cx="151.84" cy="256.17" r="1.15" fill="none" stroke="#f4554f" stroke-width="0.55"/>
<circle cx="138.3" cy="249.6" r="1.15" fill="none" stroke="#f4554f" stroke-width="0.55"/>
<circle cx="124.76" cy="243.03" r="1.15" fill="none" stroke="#f4554f" stroke-width="0.55"/>
<circle cx="237.05" cy="283.95" r="1.15" fill="none" stroke="#f4554f" stroke-width="0.55"/>
<circle cx="223.51" cy="277.38" r="1.15" fill="none" stroke="#f4554f" stroke-width="0.55"/>
<circle cx="209.97" cy="270.81" r="1.15" fill="none" stroke="#f4554f" stroke-width="0.55"/>
<circle cx="196.43" cy="264.24" r="1.15" fill="none" stroke="#f4554f" stroke-width="0.55"/>
<circle cx="182.89" cy="257.67" r="1.15" fill="none" stroke="#f4554f" stroke-width="0.55"/>
<circle cx="169.35" cy="251.1" r="1.15" fill="none" stroke="#f4554f" stroke-width="0.55"/>
<circle cx="155.81" cy="244.53" r="1.15" fill="none" stroke="#f4554f" stroke-width="0.55"/>
<circle cx="142.27" cy="237.96" r="1.15" fill="none" stroke="#f4554f" stroke-width="0.55"/>
<circle cx="254.56" cy="278.88" r="1.15" fill="none" stroke="#f4554f" stroke-width="0.55"/>
<circle cx="241.02" cy="272.31" r="1.15" fill="none" stroke="#f4554f" stroke-width="0.55"/>
<circle cx="227.48" cy="265.74" r="1.15" fill="none" stroke="#f4554f" stroke-width="0.55"/>
<circle cx="213.94" cy="259.17" r="1.15" fill="none" stroke="#f4554f" stroke-width="0.55"/>
<circle cx="200.4" cy="252.6" r="1.15" fill="none" stroke="#f4554f" stroke-width="0.55"/>
<circle cx="186.86" cy="246.03" r="1.15" fill="none" stroke="#f4554f" stroke-width="0.55"/>
<circle cx="173.32" cy="239.46" r="1.15" fill="none" stroke="#f4554f" stroke-width="0.55"/>
<circle cx="159.78" cy="232.89" r="1.15" fill="none" stroke="#f4554f" stroke-width="0.55"/>
<circle cx="272.07" cy="273.81" r="1.15" fill="none" stroke="#f4554f" stroke-width="0.55"/>
<circle cx="258.53" cy="267.24" r="1.15" fill="none" stroke="#f4554f" stroke-width="0.55"/>
<circle cx="244.99" cy="260.67" r="1.15" fill="none" stroke="#f4554f" stroke-width="0.55"/>
<circle cx="231.45" cy="254.1" r="1.15" fill="none" stroke="#f4554f" stroke-width="0.55"/>
<circle cx="217.91" cy="247.53" r="1.15" fill="none" stroke="#f4554f" stroke-width="0.55"/>
<circle cx="204.37" cy="240.96" r="1.15" fill="none" stroke="#f4554f" stroke-width="0.55"/>
<circle cx="190.83" cy="234.39" r="1.15" fill="none" stroke="#f4554f" stroke-width="0.55"/>
<circle cx="177.29" cy="227.82" r="1.15" fill="none" stroke="#f4554f" stroke-width="0.55"/>
<circle cx="87.1" cy="336.4" r="1.15" fill="none" stroke="#3b46f0" stroke-width="0.55"/>
<circle cx="87.1" cy="355.1" r="0.95" fill="#0a6fd0"/>
<text x="66.8" y="351.3" font-size="10.2" fill="#111" stroke="#111">Neuron 1</text>
<circle cx="131.4" cy="343.4" r="1.15" fill="none" stroke="#3b46f0" stroke-width="0.55"/>
<circle cx="131.4" cy="362.3" r="0.95" fill="#0a6fd0"/>
<text x="111.2" y="358.8" font-size="10.2" fill="#111" stroke="#111">Neuron 2</text>
<circle cx="152.1" cy="382.4" r="1.15" fill="none" stroke="#3b46f0" stroke-width="0.55"/>
<circle cx="152.1" cy="401.3" r="0.95" fill="#0a6fd0"/>
<text x="133.6" y="394.3" font-size="10.2" fill="#111" stroke="#111">Neuron 3</text>
<circle cx="169.3" cy="302.7" r="1.15" fill="none" stroke="#3b46f0" stroke-width="0.55"/>
<circle cx="169.3" cy="321.6" r="0.95" fill="#0a6fd0"/>
<text x="149.9" y="319" font-size="10.2" fill="#111" stroke="#111">Neuron 4</text>
<circle cx="203.1" cy="342.7" r="1.15" fill="none" stroke="#3b46f0" stroke-width="0.55"/>
<circle cx="203.1" cy="362" r="0.95" fill="#0a6fd0"/>
<text x="183.2" y="359" font-size="10.2" fill="#111" stroke="#111">Neuron 5</text>
<circle cx="233.9" cy="329.3" r="1.15" fill="none" stroke="#3b46f0" stroke-width="0.55"/>
<circle cx="233.9" cy="348" r="0.95" fill="#0a6fd0"/>
<text x="214.3" y="345.2" font-size="10.2" fill="#111" stroke="#111">Neuron 6</text>
<text x="17.5" y="241" font-size="10" fill="#0c0c0c" stroke="#0c0c0c">x10<tspan dy="-3.4" font-size="7.4">-5</tspan></text>
<text x="35.6" y="257.4" font-size="10" fill="#0c0c0c" stroke="#0c0c0c" text-anchor="end">0</text>
<text x="36.2" y="295.7" font-size="10" fill="#0c0c0c" stroke="#0c0c0c" text-anchor="end">-0.5</text>
<text x="35.2" y="333.6" font-size="10" fill="#0c0c0c" stroke="#0c0c0c" text-anchor="end">-1</text>
<text x="36.2" y="371.6" font-size="10" fill="#0c0c0c" stroke="#0c0c0c" text-anchor="end">-1.5</text>
<text x="16.2" y="311" font-size="10" fill="#0c0c0c" stroke="#0c0c0c" text-anchor="middle" transform="rotate(-90 16.2 311)">(m)</text>
<text x="36.4" y="381.3" font-size="10" fill="#0c0c0c" stroke="#0c0c0c" text-anchor="middle">8</text>
<text x="62.8" y="394.4" font-size="10" fill="#0c0c0c" stroke="#0c0c0c" text-anchor="middle">6</text>
<text x="88.2" y="407.6" font-size="10" fill="#0c0c0c" stroke="#0c0c0c" text-anchor="middle">4</text>
<text x="116" y="420.3" font-size="10" fill="#0c0c0c" stroke="#0c0c0c" text-anchor="middle">2</text>
<text x="142.3" y="433.9" font-size="10" fill="#0c0c0c" stroke="#0c0c0c" text-anchor="middle">0</text>
<text x="22.6" y="401" font-size="10" fill="#0c0c0c" stroke="#0c0c0c">x10<tspan dy="-3.4" font-size="7.4">-5</tspan></text>
<text x="78.8" y="422" font-size="10" fill="#0c0c0c" stroke="#0c0c0c" text-anchor="middle" transform="rotate(25.5 78.8 418.5)">(m)</text>
<text x="155.7" y="434" font-size="10" fill="#0c0c0c" stroke="#0c0c0c" text-anchor="middle">0</text>
<text x="189" y="424" font-size="10" fill="#0c0c0c" stroke="#0c0c0c" text-anchor="middle">2</text>
<text x="221.8" y="414.1" font-size="10" fill="#0c0c0c" stroke="#0c0c0c" text-anchor="middle">4</text>
<text x="257.5" y="404.6" font-size="10" fill="#0c0c0c" stroke="#0c0c0c" text-anchor="middle">6</text>
<text x="290.7" y="395.2" font-size="10" fill="#0c0c0c" stroke="#0c0c0c" text-anchor="middle">8</text>
<text x="227.6" y="427.2" font-size="10" fill="#0c0c0c" stroke="#0c0c0c" text-anchor="middle">(m)</text>
<text x="268.5" y="421.6" font-size="10" fill="#0c0c0c" stroke="#0c0c0c">x10<tspan dy="-3.4" font-size="7.4">-5</tspan></text>
<!-- panel d -->
<text x="308.8" y="213.3" font-size="12" fill="#000" stroke="#000" font-weight="bold">d.</text>
<text x="402" y="217.5" font-size="10.4" fill="#0c0c0c" stroke="#0c0c0c" text-anchor="middle">Filtered neural data</text>
<g fill="none" stroke="#1a6db2" stroke-width="0.85" stroke-linejoin="round">
<use href="#wd0" y="223.2"/>
<use href="#wd5" y="226.62"/>
<use href="#wd10" y="230.04"/>
<use href="#wd3" y="233.46"/>
<use href="#wd8" y="236.88"/>
<use href="#wd1" y="240.3"/>
<use href="#wd6" y="243.72"/>
<use href="#wd11" y="247.14"/>
<use href="#wd4" y="250.57"/>
<use href="#wd9" y="253.99"/>
<use href="#wd2" y="257.41"/>
<use href="#wd7" y="260.83"/>
<use href="#wd3" y="264.25"/>
<use href="#wd8" y="267.67"/>
<use href="#wd1" y="271.09"/>
<use href="#wd6" y="274.51"/>
<use href="#wd11" y="277.93"/>
<use href="#wd4" y="281.35"/>
<use href="#wd9" y="284.77"/>
<use href="#wd2" y="288.19"/>
<use href="#wd7" y="291.61"/>
<use href="#wd0" y="295.03"/>
<use href="#wd5" y="298.45"/>
<use href="#wd10" y="301.87"/>
<use href="#wd6" y="305.3"/>
<use href="#wd11" y="308.72"/>
<use href="#wd4" y="312.14"/>
<use href="#wd9" y="315.56"/>
<use href="#wd2" y="318.98"/>
<use href="#wd7" y="322.4"/>
<use href="#wd0" y="325.82"/>
<use href="#wd5" y="329.24"/>
<use href="#wd10" y="332.66"/>
<use href="#wd3" y="336.08"/>
<use href="#wd8" y="339.5"/>
<use href="#wd1" y="342.92"/>
<use href="#wd9" y="346.34"/>
<use href="#wd2" y="349.76"/>
<use href="#wd7" y="353.18"/>
<use href="#wd0" y="356.6"/>
<use href="#wd5" y="360.03"/>
<use href="#wd10" y="363.45"/>
<use href="#wd3" y="366.87"/>
<use href="#wd8" y="370.29"/>
<use href="#wd1" y="373.71"/>
<use href="#wd6" y="377.13"/>
<use href="#wd11" y="380.55"/>
<use href="#wd4" y="383.97"/>
<use href="#wd0" y="387.39"/>
<use href="#wd5" y="390.81"/>
<use href="#wd10" y="394.23"/>
<use href="#wd3" y="397.65"/>
<use href="#wd8" y="401.07"/>
<use href="#wd1" y="404.49"/>
<use href="#wd6" y="407.91"/>
<use href="#wd11" y="411.33"/>
<use href="#wd4" y="414.76"/>
<use href="#wd9" y="418.18"/>
<use href="#wd2" y="421.6"/>
<use href="#wd7" y="425.02"/>
<use href="#wd3" y="428.44"/>
<use href="#wd8" y="431.86"/>
<use href="#wd1" y="435.28"/>
<use href="#wd6" y="438.7"/>
<path d="M347 260.83L348 262.13L349 260.83"/>
<path d="M428.5 264.25L429.5 265.65L430.5 264.25"/>
<path d="M419 308.72L420 309.92L421 308.72"/>
<path d="M445 329.24L446 330.74L447 329.24"/>
<path d="M445 336.08L446 337.38L447 336.08"/>
<path d="M418.2 305.3L419.2 308.3L420.2 305.3"/>
<path d="M340 353.18L341 354.58L342 353.18"/>
<path d="M366.5 363.45L367.5 365.05L368.5 363.45"/>
<path d="M340 383.97L341 385.27L342 383.97"/>
<path d="M393 236.88L394 238.08L395 236.88"/>
<path d="M472 250.57L473 251.87L474 250.57"/>
</g>
<text x="323.9" y="227.2" font-size="10" fill="#0c0c0c" stroke="#0c0c0c" text-anchor="end">64</text>
<text x="323" y="441" font-size="10" fill="#0c0c0c" stroke="#0c0c0c" text-anchor="end">1</text>
<text x="322.2" y="329.7" font-size="10.4" fill="#0c0c0c" stroke="#0c0c0c" text-anchor="middle" transform="rotate(-90 322.2 329.7)">Electrode channels</text>
<rect x="407.1" y="287.8" width="24.2" height="38.9" fill="rgba(255,255,255,0.25)" stroke="#ee2424" stroke-width="1.45" stroke-dasharray="4.8 3.0"/>
<line x1="407.1" y1="326.7" x2="428" y2="440.4" stroke="#ee2424" stroke-width="1.45" stroke-dasharray="7.8 4.6"/>
<line x1="431.3" y1="326.7" x2="484.6" y2="357.5" stroke="#ee2424" stroke-width="1.45" stroke-dasharray="7.8 4.6"/>
<rect x="428" y="357.5" width="56.6" height="82.9" fill="#fff" stroke="#ee2424" stroke-width="1.3"/>
<g fill="none" stroke="#1a6db2" stroke-width="0.8" stroke-linejoin="round">
<path d="M429.2 363.24L430.2 363.67L431.2 363.76L432.2 363.75L433.2 363.19L434.2 363.15L435.2 363.53L436.2 363.13L437.2 362.99L438.2 363.2L439.2 363.14L440.2 363.4L441.2 363.49L442.2 363.5L443.2 363.88L444.2 363.66L445.2 363.44L446.2 363.32L447.2 363.04L448.2 363L449.2 363.29L450.2 363.35L451.2 363.76L452.2 363.62L453.2 363.35L454.2 362.93L455.2 363.03L456.2 363.2L457.2 363.45L458.2 363.49L459.2 363.56L460.2 363.5L461.2 363.16L462.2 363.15L463.2 363.48L464.2 363.99L465.2 363.7L466.2 363.5L467.2 363.35L468.2 362.73L469.2 362.69L470.2 363.37L471.2 363.79L472.2 363.86L473.2 363.51L474.2 363.64L475.2 363.31L476.2 363.19L477.2 363.38L478.2 363.6L479.2 363.54L480.2 363.37L481.2 363.27L482.2 363.23L483.2 363.15"/>
<path d="M429.2 370.16L430.2 370.1L431.2 369.77L432.2 369.74L433.2 369.58L434.2 369.42L435.2 369.92L436.2 370.1L437.2 370.29L438.2 370.06L439.2 370.11L440.2 370.01L441.2 369.76L442.2 369.86L443.2 369.48L444.2 369.32L445.2 369.23L446.2 369.56L447.2 370.19L448.2 370.36L449.2 370.33L450.2 369.73L451.2 369.65L452.2 370.17L453.2 369.81L454.2 369.73L455.2 369.55L456.2 369.48L457.2 369.52L458.2 369.53L459.2 370.29L460.2 370.38L461.2 369.97L462.2 369.73L463.2 369.75L464.2 369.66L465.2 370L466.2 369.76L467.2 370.05L468.2 370L469.2 370.08L470.2 369.85L471.2 369.74L472.2 370.26L473.2 370.13L474.2 369.6L475.2 370.01L476.2 370.33L477.2 369.99L478.2 369.89L479.2 370.18L480.2 370.12L481.2 370.32L482.2 369.8L483.2 369.75"/>
<path d="M429.2 376.37L430.2 376.49L431.2 376.31L432.2 376.24L433.2 376.63L434.2 376.46L435.2 376.36L436.2 376.26L437.2 376.2L438.2 376.08L439.2 375.89L440.2 376.31L441.2 376.36L442.2 376.36L443.2 376.75L444.2 376.48L445.2 376.44L446.2 376.72L447.2 376.26L448.2 376.23L449.2 376.45L450.2 376.57L451.2 376.29L452.2 376.39L453.2 376.67L454.2 376.51L455.2 376.82L456.2 376.48L457.2 376.9L458.2 376.75L459.2 376.43L460.2 376.35L461.2 376.06L462.2 376.39L463.2 376.32L464.2 376.74L465.2 376.61L466.2 376.33L467.2 376.14L468.2 376.46L469.2 376.52L470.2 377.07L471.2 376.68L472.2 376.56L473.2 376.35L474.2 376.05L475.2 376.37L476.2 376.32L477.2 376.48L478.2 376.45L479.2 376.3L480.2 376.46L481.2 376.53L482.2 376.68L483.2 377.03"/>
<path d="M429.2 383.3L430.2 383.36L431.2 383.4L432.2 383.03L433.2 383.04L434.2 382.84L435.2 383.09L436.2 383.08L437.2 382.87L438.2 382.91L439.2 383.18L440.2 383.36L441.2 383.13L442.2 383.39L443.2 383.12L444.2 383.16L445.2 382.84L446.2 382.66L447.2 383.13L448.2 383.24L449.2 383.37L450.2 383.04L451.2 382.9L452.2 382.83L453.2 382.72L454.2 382.71L455.2 382.81L456.2 382.72L457.2 382.91L458.2 383.16L459.2 382.89L460.2 383.2L461.2 383.2L462.2 383.38L463.2 383.16L464.2 383.09L465.2 383.07L466.2 382.77L467.2 382.52L468.2 383.19L469.2 383.55L470.2 383.36L471.2 382.95L472.2 383.12L473.2 382.94L474.2 382.62L475.2 382.83L476.2 382.92L477.2 383.34L478.2 382.95L479.2 383.16L480.2 383.2L481.2 382.96L482.2 383.39L483.2 383.28"/>
<path d="M429.2 389.8L430.2 389.98L431.2 389.5L432.2 389.85L433.2 389.57L434.2 389.81L435.2 389.81L436.2 389.5L437.2 389.76L438.2 390.17L439.2 389.92L440.2 389.63L441.2 389.45L442.2 389.45L443.2 389.6L444.2 389.46L445.2 389.22L446.2 389.45L447.2 389.62L448.2 389.94L449.2 389.8L450.2 389.49L451.2 389.6L452.2 389.87L453.2 389.66L454.2 389.67L455.2 389.39L456.2 389.52L457.2 389.97L458.2 389.47L459.2 389.53L460.2 389.64L461.2 390.22L462.2 390.15L463.2 390L464.2 389.47L465.2 389.73L466.2 389.8L467.2 389.55L468.2 389.5L469.2 389.63L470.2 389.46L471.2 389.63L472.2 389.69L473.2 389.6L474.2 389.57L475.2 389.76L476.2 389.66L477.2 389.75L478.2 389.5L479.2 389.18L480.2 389.21L481.2 389.32L482.2 389.35L483.2 389.36"/>
<path d="M429.2 396.32L430.2 396.36L431.2 396.44L432.2 396.16L433.2 395.94L434.2 396.15L435.2 396.29L436.2 396.12L437.2 396.38L438.2 396.55L439.2 396.38L440.2 396.19L441.2 396.22L442.2 396.29L443.2 396.54L444.2 396.29L445.2 396.53L446.2 396.45L447.2 396.35L448.2 396.24L449.2 396.24L450.2 396.57L451.2 396.23L452.2 396.22L453.2 396.5L454.2 396.45L455.2 396.47L456.2 395.94L457.2 396.92L458.2 401.48L459.2 397.6L460.2 395.11L461.2 395.51L462.2 396.56L463.2 397.06L464.2 396.73L465.2 396.35L466.2 395.93L467.2 395.99L468.2 396.24L469.2 395.87L470.2 396.06L471.2 395.96L472.2 396.35L473.2 396.87L474.2 396.28L475.2 395.91L476.2 396.12L477.2 396.12L478.2 396.35L479.2 395.78L480.2 396.15L481.2 396.53L482.2 396.78L483.2 396.54"/>
<path d="M429.2 402.71L430.2 402.65L431.2 402.71L432.2 403.21L433.2 403.5L434.2 403.56L435.2 403.44L436.2 403.12L437.2 402.68L438.2 402.8L439.2 402.64L440.2 403.2L441.2 403.39L442.2 403.12L443.2 403.05L444.2 403.16L445.2 402.84L446.2 402.79L447.2 402.54L448.2 402.56L449.2 403.07L450.2 402.84L451.2 402.91L452.2 403.17L453.2 402.98L454.2 402.59L455.2 402.81L456.2 402.69L457.2 402.75L458.2 402.65L459.2 402.75L460.2 402.98L461.2 403.1L462.2 402.97L463.2 402.8L464.2 402.98L465.2 402.74L466.2 402.47L467.2 403.04L468.2 402.9L469.2 402.65L470.2 402.71L471.2 402.52L472.2 402.76L473.2 403.08L474.2 403.04L475.2 403.14L476.2 402.67L477.2 402.62L478.2 402.65L479.2 402.41L480.2 402.64L481.2 402.59L482.2 402.89L483.2 403.32"/>
<path d="M429.2 409.22L430.2 409.11L431.2 409.11L432.2 409.04L433.2 409.61L434.2 409.58L435.2 409.44L436.2 409.51L437.2 409.38L438.2 409.74L439.2 409.69L440.2 409.73L441.2 409.52L442.2 409.79L443.2 409.96L444.2 409.5L445.2 409.54L446.2 409.27L447.2 409.62L448.2 409.86L449.2 409.98L450.2 409.36L451.2 409.23L452.2 409.57L453.2 409.97L454.2 409.86L455.2 409.1L456.2 409.08L457.2 409L458.2 409.63L459.2 410.11L460.2 409.57L461.2 409.66L462.2 409.57L463.2 409.48L464.2 409.43L465.2 409.31L466.2 409.26L467.2 409.17L468.2 409.22L469.2 409.47L470.2 409.54L471.2 409.72L472.2 409.26L473.2 409.44L474.2 409.44L475.2 409.59L476.2 409.22L477.2 408.89L478.2 409.45L479.2 409.68L480.2 409.92L481.2 409.95L482.2 409.94L483.2 409.33"/>
<path d="M429.2 415.94L430.2 415.62L431.2 415.84L432.2 416.02L433.2 416.56L434.2 416.43L435.2 415.86L436.2 415.68L437.2 415.84L438.2 416.08L439.2 416.23L440.2 416.03L441.2 415.78L442.2 415.45L443.2 415.87L444.2 416.05L445.2 415.98L446.2 416.16L447.2 416.43L448.2 415.86L449.2 415.79L450.2 416.17L451.2 416.02L452.2 415.85L453.2 415.84L454.2 415.71L455.2 415.99L456.2 416.17L457.2 416.52L458.2 416.6L459.2 415.98L460.2 416.16L461.2 416.42L462.2 416.55L463.2 416.38L464.2 416.08L465.2 415.96L466.2 415.89L467.2 416L468.2 416.44L469.2 416.53L470.2 416.44L471.2 416.21L472.2 416.01L473.2 416.41L474.2 416.58L475.2 416.36L476.2 416.15L477.2 415.78L478.2 415.83L479.2 415.9L480.2 415.81L481.2 415.98L482.2 416.01L483.2 416.46"/>
<path d="M429.2 422.82L430.2 422.88L431.2 422.69L432.2 423.03L433.2 422.79L434.2 422.84L435.2 422.54L436.2 422.4L437.2 422.67L438.2 422.92L439.2 423.05L440.2 422.66L441.2 422.8L442.2 422.54L443.2 422.77L444.2 422.6L445.2 422.9L446.2 423.01L447.2 422.41L448.2 422.39L449.2 422.51L450.2 422.55L451.2 422.35L452.2 422.53L453.2 422.44L454.2 422.58L455.2 422.5L456.2 422.86L457.2 423.17L458.2 422.85L459.2 422.22L460.2 422.55L461.2 423.2L462.2 423.18L463.2 422.53L464.2 422.68L465.2 422.93L466.2 422.73L467.2 422.43L468.2 422.41L469.2 422.74L470.2 422.97L471.2 422.7L472.2 422.89L473.2 422.75L474.2 422.77L475.2 422.77L476.2 422.65L477.2 422.68L478.2 422.95L479.2 422.64L480.2 422.27L481.2 422.53L482.2 422.44L483.2 422.64"/>
<path d="M429.2 428.75L430.2 429.45L431.2 429.51L432.2 429.88L433.2 429.43L434.2 429.2L435.2 429.26L436.2 429.36L437.2 429.42L438.2 429.36L439.2 429.23L440.2 429.46L441.2 429.03L442.2 429.01L443.2 429.2L444.2 429.66L445.2 429.73L446.2 429.9L447.2 429.81L448.2 429.35L449.2 429.12L450.2 429.17L451.2 429.39L452.2 429L453.2 428.96L454.2 429.27L455.2 429.28L456.2 429.2L457.2 429.07L458.2 429.75L459.2 429.61L460.2 429.75L461.2 429.21L462.2 428.97L463.2 428.94L464.2 428.72L465.2 428.81L466.2 429.01L467.2 429.1L468.2 429.68L469.2 429.33L470.2 428.94L471.2 428.96L472.2 429.5L473.2 429.8L474.2 429.29L475.2 429.04L476.2 429.53L477.2 429.26L478.2 429.36L479.2 428.93L480.2 429.06L481.2 429.21L482.2 429.66L483.2 429.48"/>
<path d="M429.2 435.69L430.2 435.74L431.2 435.89L432.2 435.8L433.2 435.74L434.2 436.06L435.2 436.06L436.2 435.78L437.2 436.07L438.2 435.63L439.2 435.74L440.2 435.6L441.2 436.15L442.2 436.45L443.2 436.17L444.2 436.28L445.2 436.19L446.2 435.63L447.2 435.39L448.2 435.48L449.2 435.95L450.2 435.83L451.2 436.25L452.2 436.33L453.2 436.16L454.2 436.04L455.2 436.08L456.2 435.63L457.2 435.96L458.2 435.8L459.2 436.07L460.2 436.21L461.2 435.79L462.2 436.05L463.2 436.23L464.2 435.88L465.2 435.64L466.2 435.65L467.2 436.23L468.2 435.77L469.2 436.16L470.2 435.75L471.2 435.94L472.2 435.55L473.2 435.43L474.2 435.71L475.2 435.46L476.2 435.62L477.2 436.16L478.2 436.33L479.2 436.55L480.2 436.65L481.2 435.94L482.2 435.67L483.2 435.8"/>
</g>
<text x="400.7" y="451.2" font-size="10.3" fill="#0c0c0c" stroke="#0c0c0c" text-anchor="middle">Time</text>
<rect x="477" y="444" width="9.4" height="2.4" fill="#000"/>
<text x="481.9" y="456.3" font-size="10.2" fill="#0c0c0c" stroke="#0c0c0c" text-anchor="middle">1 ms</text>
<!-- panel e -->
<text x="501.1" y="212.9" font-size="12" fill="#000" stroke="#000" font-weight="bold">e.</text>
<text x="595.6" y="217.9" font-size="10.35" fill="#0c0c0c" stroke="#0c0c0c" text-anchor="middle">Final spike trains</text>
<rect x="522" y="221.3" width="156.4" height="219.1" fill="#05061c"/>
<text x="519.8" y="229.6" font-size="9.8" fill="#0c0c0c" stroke="#0c0c0c" text-anchor="end">1280</text>
<text x="518.4" y="439.3" font-size="10" fill="#0c0c0c" stroke="#0c0c0c" text-anchor="end">1</text>
<text x="512.3" y="329.8" font-size="10.3" fill="#0c0c0c" stroke="#0c0c0c" text-anchor="middle" transform="rotate(-90 512.3 329.8)">Spike encoded input</text>
<path d="M585.1 226.9L585.9 226.3M586.72 228.76L587.68 228.04M585.51 230.53L586.39 229.87M586.34 232.27L587.06 231.73" fill="none" stroke="#ece4dc" stroke-width="0.95" opacity="0.85"/>
<path d="M664.7 237.5L665.5 236.9M666.32 239.36L667.28 238.64M665.11 241.13L665.99 240.47M665.94 242.87L666.66 242.33" fill="none" stroke="#ece4dc" stroke-width="0.95" opacity="0.7"/>
<path d="M638.6 286.2L639.4 285.6M640.22 288.06L641.18 287.34M639.01 289.83L639.89 289.17M639.84 291.57L640.56 291.03" fill="none" stroke="#ece4dc" stroke-width="0.95" opacity="0.85"/>
<path d="M611.67 302.12L612.67 301.38M613.7 304.45L614.9 303.55M612.19 306.66L613.29 305.84M613.22 308.84L614.12 308.16" fill="none" stroke="#ece4dc" stroke-width="1.19" opacity="1"/>
<path d="M638.5 314.3L639.3 313.7M640.12 316.16L641.08 315.44M638.91 317.93L639.79 317.27M639.74 319.67L640.46 319.13" fill="none" stroke="#ece4dc" stroke-width="0.95" opacity="0.85"/>
<path d="M611.7 329.1L612.5 328.5M613.32 330.96L614.28 330.24M612.11 332.73L612.99 332.07M612.94 334.47L613.66 333.93" fill="none" stroke="#ece4dc" stroke-width="0.95" opacity="0.4"/>
<path d="M532.1 338L532.9 337.4M533.72 339.86L534.68 339.14M532.51 341.63L533.39 340.97M533.34 343.37L534.06 342.83" fill="none" stroke="#ece4dc" stroke-width="0.95" opacity="0.85"/>
<path d="M558.4 346.9L559.2 346.3M560.02 348.76L560.98 348.04M558.81 350.53L559.69 349.87M559.64 352.27L560.36 351.73" fill="none" stroke="#ece4dc" stroke-width="0.95" opacity="0.85"/>
<path d="M532.1 366.6L532.9 366M533.72 368.46L534.68 367.74M532.51 370.23L533.39 369.57M533.34 371.97L534.06 371.43" fill="none" stroke="#ece4dc" stroke-width="0.95" opacity="0.8"/>
<path d="M558.3 374.9L559.1 374.3M559.92 376.76L560.88 376.04M558.71 378.53L559.59 377.87M559.54 380.27L560.26 379.73" fill="none" stroke="#ece4dc" stroke-width="0.95" opacity="0.35"/>
<path d="M664.7 267.3L665.5 266.7M666.32 269.16L667.28 268.44M665.11 270.93L665.99 270.27M665.94 272.67L666.66 272.13" fill="none" stroke="#ece4dc" stroke-width="0.95" opacity="0.3"/>
<path d="M555.7 395.7L556.5 395.1M557.32 397.56L558.28 396.84M556.11 399.33L556.99 398.67M556.94 401.07L557.66 400.53" fill="none" stroke="#ece4dc" stroke-width="0.95" opacity="0.2"/>
<path d="M532.7 396.7L533.5 396.1M534.32 398.56L535.28 397.84M533.11 400.33L533.99 399.67M533.94 402.07L534.66 401.53" fill="none" stroke="#ece4dc" stroke-width="0.95" opacity="0.2"/>
<rect x="601.7" y="287.7" width="24.7" height="38.8" fill="none" stroke="#ee2424" stroke-width="1.45" stroke-dasharray="4.8 3.0"/>
<line x1="601.7" y1="326.5" x2="621.8" y2="439.6" stroke="#ee2424" stroke-width="1.45" stroke-dasharray="7.8 4.6"/>
<line x1="626.4" y1="326.5" x2="678.3" y2="357.2" stroke="#ee2424" stroke-width="1.45" stroke-dasharray="7.8 4.6"/>
<rect x="621.8" y="357.2" width="56.5" height="82.4" fill="#05061c" stroke="#ee2424" stroke-width="1.3"/>
<path d="M644.7 391.2L646.4 391.0L646.9 394.6L645.3 395.0ZM646.3 398.6L651.9 391.6L652.9 392.3L648.0 399.6ZM646.6 402.4L648.4 401.0L648.8 402.6L647.1 404.0ZM644.9 396.8L645.8 397.0L645.7 399.4L645.0 399.2Z" fill="#f8ede3"/>
<text x="593.5" y="451.2" font-size="10.3" fill="#0c0c0c" stroke="#0c0c0c" text-anchor="middle">Time</text>
<rect x="669.2" y="443.2" width="9.5" height="2.4" fill="#000"/>
<text x="674" y="456.2" font-size="10.2" fill="#0c0c0c" stroke="#0c0c0c" text-anchor="middle">1 ms</text>
<!-- panel f -->
<text x="4.8" y="469.9" font-size="12" fill="#000" stroke="#000" font-weight="bold">f.</text>
<text x="151.6" y="469.7" font-size="10.2" fill="#0c0c0c" stroke="#0c0c0c" text-anchor="middle">16 x 16 MEA grid</text>
<rect x="40.6" y="473" width="237.7" height="236.1" fill="#b4dcb6"/>
<use href="#el" x="64.85" y="482.5"/>
<use href="#el" x="79.4" y="482.5"/>
<use href="#el" x="93.95" y="482.5"/>
<use href="#el" x="108.5" y="482.5"/>
<use href="#el" x="123.05" y="482.5"/>
<use href="#el" x="137.6" y="482.5"/>
<use href="#el" x="152.15" y="482.5"/>
<use href="#el" x="166.7" y="482.5"/>
<use href="#el" x="181.25" y="482.5"/>
<use href="#el" x="195.8" y="482.5"/>
<use href="#el" x="210.35" y="482.5"/>
<use href="#el" x="224.9" y="482.5"/>
<use href="#el" x="239.45" y="482.5"/>
<use href="#el" x="254" y="482.5"/>
<use href="#el" x="50.3" y="497.06"/>
<use href="#el" x="64.85" y="497.06"/>
<use href="#el" x="79.4" y="497.06"/>
<use href="#el" x="93.95" y="497.06"/>
<use href="#el" x="108.5" y="497.06"/>
<use href="#el" x="123.05" y="497.06"/>
<use href="#el" x="137.6" y="497.06"/>
<use href="#el" x="152.15" y="497.06"/>
<use href="#el" x="166.7" y="497.06"/>
<use href="#el" x="181.25" y="497.06"/>
<use href="#el" x="195.8" y="497.06"/>
<use href="#el" x="210.35" y="497.06"/>
<use href="#el" x="224.9" y="497.06"/>
<use href="#el" x="239.45" y="497.06"/>
<use href="#el" x="254" y="497.06"/>
<use href="#el" x="268.55" y="497.06"/>
<use href="#el" x="50.3" y="511.62"/>
<use href="#el" x="64.85" y="511.62"/>
<use href="#el" x="79.4" y="511.62"/>
<use href="#el" x="93.95" y="511.62"/>
<use href="#el" x="108.5" y="511.62"/>
<use href="#el" x="123.05" y="511.62"/>
<use href="#el" x="137.6" y="511.62"/>
<use href="#el" x="152.15" y="511.62"/>
<use href="#el" x="166.7" y="511.62"/>
<use href="#el" x="181.25" y="511.62"/>
<use href="#el" x="195.8" y="511.62"/>
<use href="#el" x="210.35" y="511.62"/>
<use href="#el" x="224.9" y="511.62"/>
<use href="#el" x="239.45" y="511.62"/>
<use href="#el" x="254" y="511.62"/>
<use href="#el" x="268.55" y="511.62"/>
<use href="#el" x="50.3" y="526.18"/>
<use href="#el" x="64.85" y="526.18"/>
<use href="#el" x="79.4" y="526.18"/>
<use href="#el" x="93.95" y="526.18"/>
<use href="#el" x="108.5" y="526.18"/>
<use href="#el" x="123.05" y="526.18"/>
<use href="#el" x="137.6" y="526.18"/>
<use href="#el" x="152.15" y="526.18"/>
<use href="#el" x="166.7" y="526.18"/>
<use href="#el" x="181.25" y="526.18"/>
<use href="#el" x="195.8" y="526.18"/>
<use href="#el" x="210.35" y="526.18"/>
<use href="#el" x="224.9" y="526.18"/>
<use href="#el" x="239.45" y="526.18"/>
<use href="#el" x="254" y="526.18"/>
<use href="#el" x="268.55" y="526.18"/>
<use href="#el" x="50.3" y="540.74"/>
<use href="#el" x="64.85" y="540.74"/>
<use href="#el" x="79.4" y="540.74"/>
<use href="#el" x="93.95" y="540.74"/>
<use href="#el" x="108.5" y="540.74"/>
<use href="#el" x="123.05" y="540.74"/>
<use href="#el" x="137.6" y="540.74"/>
<use href="#el" x="152.15" y="540.74"/>
<use href="#el" x="166.7" y="540.74"/>
<use href="#el" x="181.25" y="540.74"/>
<use href="#el" x="195.8" y="540.74"/>
<use href="#el" x="210.35" y="540.74"/>
<use href="#el" x="224.9" y="540.74"/>
<use href="#el" x="239.45" y="540.74"/>
<use href="#el" x="254" y="540.74"/>
<use href="#el" x="268.55" y="540.74"/>
<use href="#el" x="50.3" y="555.3"/>
<use href="#el" x="64.85" y="555.3"/>
<use href="#el" x="79.4" y="555.3"/>
<use href="#el" x="93.95" y="555.3"/>
<use href="#el" x="108.5" y="555.3"/>
<use href="#el" x="123.05" y="555.3"/>
<use href="#el" x="137.6" y="555.3"/>
<use href="#el" x="152.15" y="555.3"/>
<use href="#el" x="166.7" y="555.3"/>
<use href="#el" x="181.25" y="555.3"/>
<use href="#el" x="195.8" y="555.3"/>
<use href="#el" x="210.35" y="555.3"/>
<use href="#el" x="224.9" y="555.3"/>
<use href="#el" x="239.45" y="555.3"/>
<use href="#el" x="254" y="555.3"/>
<use href="#el" x="268.55" y="555.3"/>
<use href="#el" x="50.3" y="569.86"/>
<use href="#el" x="64.85" y="569.86"/>
<use href="#el" x="79.4" y="569.86"/>
<use href="#el" x="93.95" y="569.86"/>
<use href="#el" x="108.5" y="569.86"/>
<use href="#el" x="123.05" y="569.86"/>
<use href="#el" x="137.6" y="569.86"/>
<use href="#el" x="152.15" y="569.86"/>
<use href="#el" x="166.7" y="569.86"/>
<use href="#el" x="181.25" y="569.86"/>
<use href="#el" x="195.8" y="569.86"/>
<use href="#el" x="210.35" y="569.86"/>
<use href="#el" x="224.9" y="569.86"/>
<use href="#el" x="239.45" y="569.86"/>
<use href="#el" x="254" y="569.86"/>
<use href="#el" x="268.55" y="569.86"/>
<use href="#el" x="50.3" y="584.42"/>
<use href="#el" x="64.85" y="584.42"/>
<use href="#el" x="79.4" y="584.42"/>
<use href="#el" x="93.95" y="584.42"/>
<use href="#el" x="108.5" y="584.42"/>
<use href="#el" x="123.05" y="584.42"/>
<use href="#el" x="137.6" y="584.42"/>
<use href="#el" x="152.15" y="584.42"/>
<use href="#el" x="166.7" y="584.42"/>
<use href="#el" x="181.25" y="584.42"/>
<use href="#el" x="195.8" y="584.42"/>
<use href="#el" x="210.35" y="584.42"/>
<use href="#el" x="224.9" y="584.42"/>
<use href="#el" x="239.45" y="584.42"/>
<use href="#el" x="254" y="584.42"/>
<use href="#el" x="268.55" y="584.42"/>
<use href="#el" x="50.3" y="598.98"/>
<use href="#el" x="64.85" y="598.98"/>
<use href="#el" x="79.4" y="598.98"/>
<use href="#el" x="93.95" y="598.98"/>
<use href="#el" x="108.5" y="598.98"/>
<use href="#el" x="123.05" y="598.98"/>
<use href="#el" x="137.6" y="598.98"/>
<use href="#el" x="152.15" y="598.98"/>
<use href="#el" x="166.7" y="598.98"/>
<use href="#el" x="181.25" y="598.98"/>
<use href="#el" x="195.8" y="598.98"/>
<use href="#el" x="210.35" y="598.98"/>
<use href="#el" x="224.9" y="598.98"/>
<use href="#el" x="239.45" y="598.98"/>
<use href="#el" x="254" y="598.98"/>
<use href="#el" x="268.55" y="598.98"/>
<use href="#el" x="50.3" y="613.54"/>
<use href="#el" x="64.85" y="613.54"/>
<use href="#el" x="79.4" y="613.54"/>
<use href="#el" x="93.95" y="613.54"/>
<use href="#el" x="108.5" y="613.54"/>
<use href="#el" x="123.05" y="613.54"/>
<use href="#el" x="137.6" y="613.54"/>
<use href="#el" x="152.15" y="613.54"/>
<use href="#el" x="166.7" y="613.54"/>
<use href="#el" x="181.25" y="613.54"/>
<use href="#el" x="195.8" y="613.54"/>
<use href="#el" x="210.35" y="613.54"/>
<use href="#el" x="224.9" y="613.54"/>
<use href="#el" x="239.45" y="613.54"/>
<use href="#el" x="254" y="613.54"/>
<use href="#el" x="268.55" y="613.54"/>
<use href="#el" x="50.3" y="628.1"/>
<use href="#el" x="64.85" y="628.1"/>
<use href="#el" x="79.4" y="628.1"/>
<use href="#el" x="93.95" y="628.1"/>
<use href="#el" x="108.5" y="628.1"/>
<use href="#el" x="123.05" y="628.1"/>
<use href="#el" x="137.6" y="628.1"/>
<use href="#el" x="152.15" y="628.1"/>
<use href="#el" x="166.7" y="628.1"/>
<use href="#el" x="181.25" y="628.1"/>
<use href="#el" x="195.8" y="628.1"/>
<use href="#el" x="210.35" y="628.1"/>
<use href="#el" x="224.9" y="628.1"/>
<use href="#el" x="239.45" y="628.1"/>
<use href="#el" x="254" y="628.1"/>
<use href="#el" x="268.55" y="628.1"/>
<use href="#el" x="50.3" y="642.66"/>
<use href="#el" x="64.85" y="642.66"/>
<use href="#el" x="79.4" y="642.66"/>
<use href="#el" x="93.95" y="642.66"/>
<use href="#el" x="108.5" y="642.66"/>
<use href="#el" x="123.05" y="642.66"/>
<use href="#el" x="137.6" y="642.66"/>
<use href="#el" x="152.15" y="642.66"/>
<use href="#el" x="166.7" y="642.66"/>
<use href="#el" x="181.25" y="642.66"/>
<use href="#el" x="195.8" y="642.66"/>
<use href="#el" x="210.35" y="642.66"/>
<use href="#el" x="224.9" y="642.66"/>
<use href="#el" x="239.45" y="642.66"/>
<use href="#el" x="254" y="642.66"/>
<use href="#el" x="268.55" y="642.66"/>
<use href="#el" x="50.3" y="657.22"/>
<use href="#el" x="64.85" y="657.22"/>
<use href="#el" x="79.4" y="657.22"/>
<use href="#el" x="93.95" y="657.22"/>
<use href="#el" x="108.5" y="657.22"/>
<use href="#el" x="123.05" y="657.22"/>
<use href="#el" x="137.6" y="657.22"/>
<use href="#el" x="152.15" y="657.22"/>
<use href="#el" x="166.7" y="657.22"/>
<use href="#el" x="181.25" y="657.22"/>
<use href="#el" x="195.8" y="657.22"/>
<use href="#el" x="210.35" y="657.22"/>
<use href="#el" x="224.9" y="657.22"/>
<use href="#el" x="239.45" y="657.22"/>
<use href="#el" x="254" y="657.22"/>
<use href="#el" x="268.55" y="657.22"/>
<use href="#el" x="50.3" y="671.78"/>
<use href="#el" x="64.85" y="671.78"/>
<use href="#el" x="79.4" y="671.78"/>
<use href="#el" x="93.95" y="671.78"/>
<use href="#el" x="108.5" y="671.78"/>
<use href="#el" x="123.05" y="671.78"/>
<use href="#el" x="137.6" y="671.78"/>
<use href="#el" x="152.15" y="671.78"/>
<use href="#el" x="166.7" y="671.78"/>
<use href="#el" x="181.25" y="671.78"/>
<use href="#el" x="195.8" y="671.78"/>
<use href="#el" x="210.35" y="671.78"/>
<use href="#el" x="224.9" y="671.78"/>
<use href="#el" x="239.45" y="671.78"/>
<use href="#el" x="254" y="671.78"/>
<use href="#el" x="268.55" y="671.78"/>
<use href="#el" x="50.3" y="686.34"/>
<use href="#el" x="64.85" y="686.34"/>
<use href="#el" x="79.4" y="686.34"/>
<use href="#el" x="93.95" y="686.34"/>
<use href="#el" x="108.5" y="686.34"/>
<use href="#el" x="123.05" y="686.34"/>
<use href="#el" x="137.6" y="686.34"/>
<use href="#el" x="152.15" y="686.34"/>
<use href="#el" x="166.7" y="686.34"/>
<use href="#el" x="181.25" y="686.34"/>
<use href="#el" x="195.8" y="686.34"/>
<use href="#el" x="210.35" y="686.34"/>
<use href="#el" x="224.9" y="686.34"/>
<use href="#el" x="239.45" y="686.34"/>
<use href="#el" x="254" y="686.34"/>
<use href="#el" x="268.55" y="686.34"/>
<use href="#el" x="64.85" y="700.9"/>
<use href="#el" x="79.4" y="700.9"/>
<use href="#el" x="93.95" y="700.9"/>
<use href="#el" x="108.5" y="700.9"/>
<use href="#el" x="123.05" y="700.9"/>
<use href="#el" x="137.6" y="700.9"/>
<use href="#el" x="152.15" y="700.9"/>
<use href="#el" x="166.7" y="700.9"/>
<use href="#el" x="181.25" y="700.9"/>
<use href="#el" x="195.8" y="700.9"/>
<use href="#el" x="210.35" y="700.9"/>
<use href="#el" x="224.9" y="700.9"/>
<use href="#el" x="239.45" y="700.9"/>
<use href="#el" x="254" y="700.9"/>
<line x1="50.4" y1="709.1" x2="50.4" y2="711.1" stroke="#d4d4d4" stroke-width="0.7"/>
<line x1="98.6" y1="709.1" x2="98.6" y2="711.1" stroke="#d4d4d4" stroke-width="0.7"/>
<line x1="148" y1="709.1" x2="148" y2="711.1" stroke="#d4d4d4" stroke-width="0.7"/>
<line x1="195.8" y1="709.1" x2="195.8" y2="711.1" stroke="#d4d4d4" stroke-width="0.7"/>
<line x1="244.4" y1="709.1" x2="244.4" y2="711.1" stroke="#d4d4d4" stroke-width="0.7"/>
<line x1="40.6" y1="709.5" x2="278.3" y2="709.5" stroke="#e2e2e2" stroke-width="0.7"/>
<rect x="135.4" y="492.5" width="139.2" height="122" fill="none" stroke="#111" stroke-width="1.2"/>
<text x="26" y="588.9" font-size="10.3" fill="#0c0c0c" stroke="#0c0c0c" text-anchor="middle" transform="rotate(-90 26 588.9)">y (μm)</text>
<text x="160.4" y="722.9" font-size="10.3" fill="#0c0c0c" stroke="#0c0c0c" text-anchor="middle">x (μm)</text>
<!-- panel g -->
<text x="309.1" y="468.4" font-size="12" fill="#000" stroke="#000" font-weight="bold">g.</text>
<text x="402.6" y="472.4" font-size="10.35" fill="#0c0c0c" stroke="#0c0c0c" text-anchor="middle">Filtered neural data</text>
<rect x="324.8" y="598.6" width="164" height="8.2" fill="#62eef4"/>
<g fill="none" stroke="#1a6db2" stroke-width="0.8" stroke-linejoin="round">
<use href="#wg0" y="477.5"/>
<use href="#wg5" y="481.18"/>
<use href="#wg10" y="484.85"/>
<use href="#wg3" y="488.53"/>
<use href="#wg8" y="492.2"/>
<use href="#wg1" y="495.88"/>
<use href="#wg6" y="499.56"/>
<use href="#wg11" y="503.23"/>
<use href="#wg4" y="506.91"/>
<use href="#wg9" y="510.59"/>
<use href="#wg2" y="514.26"/>
<use href="#wg7" y="517.94"/>
<use href="#wg3" y="521.61"/>
<use href="#wg8" y="525.29"/>
<use href="#wg1" y="528.97"/>
<use href="#wg6" y="532.64"/>
<use href="#wg11" y="536.32"/>
<use href="#wg4" y="540"/>
<use href="#wg9" y="543.67"/>
<use href="#wg2" y="547.35"/>
<use href="#wg7" y="551.02"/>
<use href="#wg0" y="554.7"/>
<use href="#wg5" y="558.38"/>
<use href="#wg10" y="562.05"/>
<use href="#wg6" y="565.73"/>
<path d="M325.9 569.31L327.1 569.4L328.3 569.38L329.5 569.5L330.7 569.36L331.9 569.28L333.1 569.38L334.3 569.39L335.5 569.46L336.7 569.48L337.9 569.99L339.1 570.38L340.3 569.94L341.5 569.33L342.7 569.03L343.9 569.01L345.1 569.3L346.3 569.26L347.5 569.25L348.7 569.35L349.9 569.31L351.1 569.31L352.3 569.19L353.5 569.39L354.7 569.51L355.9 569.43L357.1 569.39L358.3 569.36L359.5 569.43L360.7 569.47L361.9 569.28L363.1 569.42L364.3 569.36L365.5 569.39L366.7 569.48L367.9 569.52L369.1 569.48L370.3 569.41L371.5 569.24L372.7 569.33L373.9 569.36L375.1 569.54L376.3 569.49L377.5 569.5L378.7 569.5L379.9 569.45L381.1 569.48L382.3 569.35L383.5 569.2L384.7 569.29L385.9 569.26L387.1 569.25L388.3 569.34L389.5 569.56L390.7 569.52L391.9 569.41L393.1 569.4L394.3 569.33L395.5 569.37L396.7 569.33L397.9 569.5L399.1 569.53L400.3 569.44L401.5 569.49L402.7 569.44L403.9 569.44L405.1 569.4L406.3 569.51L407.5 569.41L408.7 569.56L409.9 569.33L411.1 569.25L412.3 569.39L413.5 569.48L414.7 569.26L415.9 569.35L417.1 569.55L418.3 569.57L419.5 569.51L420.7 569.3L421.9 569.37L423.1 569.38L424.3 569.33L425.5 569.42L426.7 569.57L427.9 569.48L429.1 569.46L430.3 569.39L431.5 569.48L432.7 569.43L433.9 569.33L435.1 569.27L436.3 569.27L437.5 569.37L438.7 569.29L439.9 569.41L441.1 569.31L442.3 569.21L443.5 569.36L444.7 569.37L445.9 569.49L447.1 569.5L448.3 569.43L449.5 569.32L450.7 569.49L451.9 569.43L453.1 569.25L454.3 569.21L455.5 569.44L456.7 569.59L457.9 569.51L459.1 569.55L460.3 569.67L461.5 569.44L462.7 569.25L463.9 569.22L465.1 569.22L466.3 569.4L467.5 569.52L468.7 569.37L469.9 569.53L471.1 569.44L472.3 569.48L473.5 569.21L474.7 569.19L475.9 569.25L477.1 569.4L478.3 569.23L479.5 569.39L480.7 569.45L481.9 569.6L483.1 569.4L484.3 569.42"/>
<path d="M325.9 573.15L327.1 572.99L328.3 572.99L329.5 573.02L330.7 573.14L331.9 573.22L333.1 573L334.3 573.2L335.5 573.43L336.7 573.88L337.9 575.31L339.1 576.18L340.3 574.63L341.5 572.89L342.7 572.31L343.9 572.21L345.1 572.53L346.3 572.74L347.5 573.02L348.7 573.07L349.9 572.9L351.1 573.04L352.3 573.22L353.5 573.31L354.7 573.03L355.9 573.11L357.1 573.07L358.3 573.09L359.5 573.06L360.7 572.88L361.9 572.98L363.1 572.94L364.3 573.18L365.5 573.04L366.7 573.13L367.9 573.15L369.1 573L370.3 572.91L371.5 572.92L372.7 572.9L373.9 572.92L375.1 572.99L376.3 573.05L377.5 573.19L378.7 573.03L379.9 573.14L381.1 572.96L382.3 573.06L383.5 573.08L384.7 573.19L385.9 573.15L387.1 573.28L388.3 573.12L389.5 573.12L390.7 573.22L391.9 573.07L393.1 572.94L394.3 573.03L395.5 572.95L396.7 572.95L397.9 573.03L399.1 572.95L400.3 572.97L401.5 573.01L402.7 573.01L403.9 573.16L405.1 573.16L406.3 573.13L407.5 573.07L408.7 573.2L409.9 573.11L411.1 573.07L412.3 572.95L413.5 573.05L414.7 573.04L415.9 573.12L417.1 573.22L418.3 573.17L419.5 573.05L420.7 573.1L421.9 572.88L423.1 573.09L424.3 573.03L425.5 573.29L426.7 573.27L427.9 573.27L429.1 573.11L430.3 573.1L431.5 573L432.7 573.07L433.9 573.09L435.1 573.15L436.3 573.28L437.5 573.29L438.7 573.04L439.9 572.95L441.1 573.17L442.3 573.07L443.5 573.02L444.7 573.07L445.9 573.06L447.1 573.12L448.3 573.04L449.5 573.01L450.7 573.11L451.9 573.17L453.1 573.24L454.3 573.23L455.5 573.04L456.7 573.18L457.9 573.25L459.1 573.22L460.3 573.1L461.5 573.15L462.7 573.09L463.9 573.2L465.1 572.99L466.3 573L467.5 572.99L468.7 573.19L469.9 573.15L471.1 573.02L472.3 572.95L473.5 573.02L474.7 573.03L475.9 573.07L477.1 573.08L478.3 572.92L479.5 572.96L480.7 573.07L481.9 573.13L483.1 573.13L484.3 573.2"/>
<path d="M325.9 576.81L327.1 576.76L328.3 576.63L329.5 576.78L330.7 576.75L331.9 576.79L333.1 576.82L334.3 576.95L335.5 576.81L336.7 577L337.9 577.58L339.1 577.88L340.3 577.42L341.5 576.59L342.7 576.51L343.9 576.38L345.1 576.53L346.3 576.66L347.5 576.84L348.7 576.89L349.9 576.8L351.1 576.78L352.3 576.83L353.5 576.66L354.7 576.67L355.9 576.67L357.1 576.55L358.3 576.64L359.5 576.71L360.7 576.7L361.9 576.67L363.1 576.66L364.3 576.72L365.5 576.82L366.7 576.73L367.9 576.85L369.1 576.86L370.3 576.66L371.5 576.61L372.7 576.81L373.9 576.7L375.1 576.81L376.3 576.82L377.5 576.87L378.7 576.86L379.9 576.86L381.1 576.66L382.3 576.75L383.5 576.85L384.7 576.86L385.9 576.98L387.1 576.78L388.3 576.77L389.5 576.85L390.7 576.67L391.9 576.65L393.1 576.69L394.3 576.74L395.5 576.75L396.7 576.72L397.9 576.62L399.1 576.68L400.3 576.89L401.5 576.83L402.7 576.77L403.9 576.88L405.1 576.81L406.3 576.8L407.5 576.86L408.7 576.93L409.9 576.78L411.1 576.65L412.3 576.82L413.5 576.85L414.7 576.76L415.9 576.86L417.1 576.85L418.3 576.79L419.5 576.81L420.7 576.78L421.9 576.68L423.1 576.64L424.3 576.74L425.5 576.73L426.7 576.79L427.9 576.89L429.1 576.98L430.3 576.71L431.5 576.56L432.7 576.7L433.9 576.63L435.1 576.76L436.3 576.8L437.5 576.84L438.7 576.82L439.9 576.74L441.1 576.8L442.3 576.92L443.5 576.92L444.7 576.78L445.9 576.8L447.1 576.69L448.3 576.85L449.5 576.65L450.7 576.74L451.9 576.83L453.1 576.92L454.3 576.86L455.5 576.82L456.7 576.8L457.9 576.81L459.1 576.7L460.3 576.76L461.5 576.71L462.7 576.64L463.9 576.59L465.1 576.59L466.3 576.67L467.5 576.65L468.7 576.85L469.9 576.87L471.1 576.73L472.3 576.59L473.5 576.62L474.7 576.81L475.9 576.92L477.1 576.92L478.3 576.8L479.5 576.85L480.7 576.77L481.9 576.71L483.1 576.87L484.3 576.86"/>
<use href="#wg2" y="580.43"/>
<use href="#wg7" y="584.11"/>
<use href="#wg0" y="587.79"/>
<path d="M325.9 591.55L327.1 591.57L328.3 591.6L329.5 591.42L330.7 591.55L331.9 591.4L333.1 591.26L334.3 591.47L335.5 591.55L336.7 591.45L337.9 591.5L339.1 591.36L340.3 591.52L341.5 591.58L342.7 591.63L343.9 591.47L345.1 591.5L346.3 591.41L347.5 591.31L348.7 591.29L349.9 591.36L351.1 591.43L352.3 591.45L353.5 591.3L354.7 591.36L355.9 591.54L357.1 591.65L358.3 591.46L359.5 591.4L360.7 591.44L361.9 591.53L363.1 591.57L364.3 591.5L365.5 591.38L366.7 591.4L367.9 591.26L369.1 591.38L370.3 591.53L371.5 591.5L372.7 591.56L373.9 591.58L375.1 591.67L376.3 591.4L377.5 591.43L378.7 591.44L379.9 591.48L381.1 591.34L382.3 591.45L383.5 591.42L384.7 591.4L385.9 591.5L387.1 591.34L388.3 591.42L389.5 591.63L390.7 591.51L391.9 591.32L393.1 591.3L394.3 591.47L395.5 591.56L396.7 591.65L397.9 591.67L399.1 591.6L400.3 591.38L401.5 591.53L402.7 591.49L403.9 591.47L405.1 591.32L406.3 591.27L407.5 591.36L408.7 591.42L409.9 591.41L411.1 591.68L412.3 591.54L413.5 592L414.7 592.73L415.9 592.69L417.1 592.13L418.3 591.42L419.5 591.14L420.7 591.16L421.9 591.24L423.1 591.4L424.3 591.5L425.5 591.53L426.7 591.51L427.9 591.37L429.1 591.42L430.3 591.53L431.5 591.51L432.7 591.53L433.9 591.51L435.1 591.61L436.3 591.57L437.5 591.5L438.7 591.54L439.9 591.57L441.1 591.42L442.3 591.53L443.5 591.48L444.7 591.49L445.9 591.33L447.1 591.56L448.3 591.62L449.5 591.53L450.7 591.46L451.9 591.48L453.1 591.43L454.3 591.31L455.5 591.38L456.7 591.4L457.9 591.46L459.1 591.34L460.3 591.28L461.5 591.52L462.7 591.46L463.9 591.57L465.1 591.46L466.3 591.37L467.5 591.43L468.7 591.38L469.9 591.54L471.1 591.38L472.3 591.41L473.5 591.55L474.7 591.93L475.9 592.6L477.1 592.39L478.3 591.7L479.5 591.27L480.7 591.07L481.9 591.06L483.1 591.21L484.3 591.23"/>
<use href="#wg10" y="595.14"/>
<path d="M325.9 598.8L327.1 598.76L328.3 598.7L329.5 598.79L330.7 598.77L331.9 598.87L333.1 598.96L334.3 598.83L335.5 598.78L336.7 599.01L337.9 599.64L339.1 599.87L340.3 599.37L341.5 598.7L342.7 598.51L343.9 598.51L345.1 598.65L346.3 598.69L347.5 598.76L348.7 598.71L349.9 598.64L351.1 598.78L352.3 598.72L353.5 598.97L354.7 598.88L355.9 598.79L357.1 598.83L358.3 598.74L359.5 598.86L360.7 598.97L361.9 598.89L363.1 598.79L364.3 598.67L365.5 598.83L366.7 598.76L367.9 598.84L369.1 598.99L370.3 599.03L371.5 598.92L372.7 598.71L373.9 598.82L375.1 598.87L376.3 598.74L377.5 598.61L378.7 598.64L379.9 598.71L381.1 598.89L382.3 598.96L383.5 598.96L384.7 598.85L385.9 599L387.1 598.89L388.3 598.79L389.5 598.8L390.7 598.64L391.9 598.75L393.1 598.62L394.3 598.8L395.5 598.98L396.7 598.8L397.9 598.81L399.1 598.73L400.3 598.73L401.5 598.93L402.7 598.85L403.9 598.71L405.1 598.7L406.3 598.71L407.5 598.87L408.7 598.76L409.9 598.8L411.1 598.94L412.3 598.85L413.5 598.73L414.7 598.63L415.9 598.73L417.1 598.86L418.3 598.92L419.5 598.94L420.7 598.82L421.9 598.83L423.1 598.92L424.3 598.84L425.5 598.76L426.7 598.89L427.9 598.98L429.1 598.78L430.3 598.84L431.5 598.64L432.7 598.65L433.9 598.73L435.1 598.92L436.3 598.9L437.5 598.86L438.7 598.76L439.9 598.72L441.1 598.75L442.3 598.84L443.5 598.99L444.7 598.75L445.9 598.77L447.1 598.9L448.3 598.93L449.5 599.01L450.7 599.02L451.9 598.99L453.1 598.78L454.3 598.72L455.5 598.81L456.7 598.71L457.9 598.83L459.1 599.03L460.3 598.86L461.5 598.76L462.7 598.75L463.9 598.83L465.1 598.92L466.3 598.71L467.5 598.73L468.7 598.77L469.9 598.95L471.1 598.95L472.3 598.78L473.5 598.76L474.7 598.98L475.9 598.75L477.1 598.84L478.3 598.67L479.5 598.71L480.7 598.8L481.9 598.83L483.1 598.86L484.3 598.8"/>
<path d="M325.9 602.55L327.1 602.55L328.3 602.55L329.5 602.55L330.7 602.65L331.9 602.71L333.1 602.64L334.3 602.65L335.5 602.77L336.7 603.31L337.9 604.71L339.1 605.6L340.3 604.26L341.5 602.34L342.7 601.62L343.9 601.8L345.1 602.05L346.3 602.12L347.5 602.41L348.7 602.45L349.9 602.39L351.1 602.46L352.3 602.37L353.5 602.39L354.7 602.57L355.9 602.61L357.1 602.57L358.3 602.47L359.5 602.35L360.7 602.31L361.9 602.55L363.1 602.47L364.3 602.47L365.5 602.48L366.7 602.34L367.9 602.39L369.1 602.4L370.3 602.39L371.5 602.61L372.7 602.42L373.9 602.34L375.1 602.29L376.3 602.45L377.5 602.6L378.7 602.65L379.9 602.69L381.1 602.66L382.3 602.41L383.5 602.43L384.7 602.49L385.9 602.52L387.1 602.61L388.3 602.48L389.5 602.64L390.7 602.76L391.9 602.54L393.1 602.43L394.3 602.55L395.5 602.37L396.7 602.3L397.9 602.45L399.1 602.44L400.3 602.55L401.5 602.5L402.7 602.47L403.9 602.52L405.1 602.46L406.3 602.47L407.5 602.45L408.7 602.38L409.9 602.38L411.1 602.36L412.3 602.36L413.5 602.52L414.7 602.46L415.9 602.33L417.1 602.31L418.3 602.54L419.5 602.54L420.7 602.39L421.9 602.49L423.1 602.56L424.3 602.39L425.5 602.42L426.7 602.6L427.9 602.67L429.1 602.49L430.3 602.42L431.5 602.31L432.7 602.31L433.9 602.52L435.1 602.59L436.3 602.66L437.5 602.75L438.7 602.72L439.9 602.57L441.1 602.31L442.3 602.32L443.5 602.55L444.7 602.53L445.9 602.42L447.1 602.56L448.3 602.55L449.5 602.58L450.7 602.52L451.9 602.41L453.1 602.4L454.3 602.34L455.5 602.41L456.7 602.48L457.9 602.41L459.1 602.35L460.3 602.49L461.5 602.52L462.7 602.56L463.9 602.49L465.1 602.38L466.3 602.47L467.5 602.44L468.7 602.58L469.9 602.42L471.1 602.53L472.3 602.54L473.5 602.48L474.7 602.55L475.9 602.41L477.1 602.38L478.3 602.46L479.5 602.3L480.7 602.42L481.9 602.61L483.1 602.73L484.3 602.7"/>
<path d="M325.9 606.16L327.1 606.24L328.3 606.34L329.5 606.31L330.7 606.14L331.9 606.3L333.1 606.39L334.3 606.15L335.5 606.03L336.7 606.39L337.9 607.01L339.1 607.22L340.3 606.87L341.5 606.21L342.7 606.1L343.9 605.95L345.1 606.05L346.3 606L347.5 606.18L348.7 606.14L349.9 606.11L351.1 606.16L352.3 606.18L353.5 606.23L354.7 606.28L355.9 606.4L357.1 606.36L358.3 606.19L359.5 606.06L360.7 606.18L361.9 606.08L363.1 606.28L364.3 606.35L365.5 606.37L366.7 606.23L367.9 606.06L369.1 606.12L370.3 606.21L371.5 606.08L372.7 606.13L373.9 606.24L375.1 606.04L376.3 605.92L377.5 606.03L378.7 606.18L379.9 606.15L381.1 606.17L382.3 606.09L383.5 606.08L384.7 606.19L385.9 606.25L387.1 606.32L388.3 606.25L389.5 606.2L390.7 606.25L391.9 606.12L393.1 606.1L394.3 606.03L395.5 606.15L396.7 606.15L397.9 606.16L399.1 606.03L400.3 606.13L401.5 606.22L402.7 606.27L403.9 606.24L405.1 606.2L406.3 606.03L407.5 606.06L408.7 606.04L409.9 606.13L411.1 606.33L412.3 606.18L413.5 606.01L414.7 606.12L415.9 606.12L417.1 606.15L418.3 606.27L419.5 606.25L420.7 606.25L421.9 606.03L423.1 606.17L424.3 606.3L425.5 606.19L426.7 606.08L427.9 606.08L429.1 606.13L430.3 606.19L431.5 606.14L432.7 606.13L433.9 606.21L435.1 606.25L436.3 606.29L437.5 606.21L438.7 606.06L439.9 606.14L441.1 606.23L442.3 606.2L443.5 606.06L444.7 606.15L445.9 606.02L447.1 606.2L448.3 606.21L449.5 606.1L450.7 606.34L451.9 606.36L453.1 606.05L454.3 606.13L455.5 606.08L456.7 606.33L457.9 606.13L459.1 606.15L460.3 606.17L461.5 606.12L462.7 606.25L463.9 606.2L465.1 606.43L466.3 606.31L467.5 606.02L468.7 605.93L469.9 605.99L471.1 606L472.3 606.1L473.5 606.09L474.7 606.08L475.9 606.17L477.1 606.19L478.3 606.16L479.5 606.12L480.7 606.05L481.9 606.07L483.1 605.98L484.3 605.91"/>
<path d="M325.9 609.78L327.1 609.72L328.3 609.7L329.5 609.78L330.7 609.75L331.9 609.86L333.1 610.02L334.3 609.89L335.5 609.71L336.7 609.75L337.9 609.83L339.1 609.77L340.3 609.85L341.5 609.79L342.7 609.68L343.9 609.63L345.1 609.68L346.3 609.9L347.5 609.82L348.7 609.91L349.9 610.01L351.1 610.4L352.3 610.55L353.5 610.41L354.7 609.81L355.9 609.54L357.1 609.66L358.3 609.79L359.5 609.99L360.7 609.86L361.9 609.9L363.1 609.96L364.3 609.88L365.5 609.9L366.7 609.73L367.9 609.75L369.1 609.81L370.3 609.75L371.5 609.66L372.7 609.7L373.9 609.84L375.1 609.88L376.3 609.92L377.5 609.95L378.7 610L379.9 609.91L381.1 609.7L382.3 609.59L383.5 609.63L384.7 609.76L385.9 609.87L387.1 610L388.3 609.82L389.5 609.71L390.7 609.8L391.9 609.91L393.1 609.81L394.3 609.86L395.5 609.88L396.7 609.79L397.9 609.79L399.1 609.64L400.3 609.88L401.5 609.82L402.7 609.99L403.9 610.04L405.1 609.94L406.3 609.81L407.5 609.74L408.7 609.86L409.9 609.66L411.1 609.67L412.3 609.69L413.5 609.79L414.7 610.06L415.9 609.98L417.1 610.01L418.3 609.9L419.5 609.68L420.7 609.7L421.9 609.73L423.1 609.76L424.3 609.79L425.5 609.74L426.7 609.85L427.9 609.81L429.1 609.81L430.3 609.8L431.5 609.94L432.7 609.93L433.9 609.77L435.1 609.66L436.3 609.77L437.5 609.8L438.7 609.86L439.9 609.83L441.1 609.93L442.3 609.81L443.5 609.9L444.7 609.95L445.9 609.9L447.1 609.87L448.3 609.88L449.5 609.91L450.7 609.85L451.9 609.75L453.1 609.85L454.3 609.86L455.5 609.96L456.7 609.74L457.9 609.81L459.1 609.98L460.3 609.85L461.5 609.97L462.7 609.92L463.9 609.9L465.1 609.79L466.3 609.79L467.5 609.87L468.7 609.83L469.9 609.81L471.1 609.96L472.3 609.79L473.5 609.68L474.7 609.63L475.9 609.84L477.1 609.95L478.3 609.92L479.5 609.97L480.7 609.79L481.9 609.66L483.1 609.78L484.3 609.76"/>
<path d="M325.9 613.63L327.1 613.61L328.3 613.43L329.5 613.38L330.7 613.6L331.9 613.47L333.1 613.42L334.3 613.42L335.5 613.56L336.7 613.72L337.9 613.53L339.1 613.45L340.3 613.62L341.5 613.43L342.7 613.38L343.9 613.36L345.1 613.61L346.3 613.6L347.5 613.61L348.7 613.59L349.9 614.01L351.1 615.59L352.3 617.03L353.5 616.14L354.7 614.17L355.9 612.9L357.1 612.38L358.3 612.66L359.5 613L360.7 613.22L361.9 613.46L363.1 613.63L364.3 613.72L365.5 613.66L366.7 613.49L367.9 613.41L369.1 613.58L370.3 613.5L371.5 613.34L372.7 613.36L373.9 613.38L375.1 613.6L376.3 613.51L377.5 613.71L378.7 613.64L379.9 613.6L381.1 613.6L382.3 613.48L383.5 613.63L384.7 613.66L385.9 613.39L387.1 613.37L388.3 613.39L389.5 613.53L390.7 613.66L391.9 613.75L393.1 613.65L394.3 613.69L395.5 613.54L396.7 613.52L397.9 613.5L399.1 613.55L400.3 613.54L401.5 613.61L402.7 613.6L403.9 613.53L405.1 613.47L406.3 613.49L407.5 613.49L408.7 613.5L409.9 613.55L411.1 613.61L412.3 613.52L413.5 613.53L414.7 613.54L415.9 613.5L417.1 613.43L418.3 613.39L419.5 613.52L420.7 613.53L421.9 613.48L423.1 613.54L424.3 613.37L425.5 613.54L426.7 613.6L427.9 613.39L429.1 613.39L430.3 613.41L431.5 613.5L432.7 613.59L433.9 613.6L435.1 613.69L436.3 613.63L437.5 613.55L438.7 613.47L439.9 613.39L441.1 613.59L442.3 613.42L443.5 613.63L444.7 613.58L445.9 613.72L447.1 613.57L448.3 613.34L449.5 613.51L450.7 613.52L451.9 613.38L453.1 613.59L454.3 613.66L455.5 613.62L456.7 613.43L457.9 613.6L459.1 613.48L460.3 613.69L461.5 613.65L462.7 613.59L463.9 613.62L465.1 613.59L466.3 613.51L467.5 613.5L468.7 613.5L469.9 613.53L471.1 613.55L472.3 613.54L473.5 613.55L474.7 613.68L475.9 613.49L477.1 613.59L478.3 613.42L479.5 613.4L480.7 613.51L481.9 613.48L483.1 613.48L484.3 613.46"/>
<path d="M325.9 617.02L327.1 617.24L328.3 617.39L329.5 617.37L330.7 617.18L331.9 617.15L333.1 617.06L334.3 617.11L335.5 617.08L336.7 617.14L337.9 617.17L339.1 617.13L340.3 617.24L341.5 617.37L342.7 617.43L343.9 617.31L345.1 617.25L346.3 617.17L347.5 617.17L348.7 617.25L349.9 617.45L351.1 617.87L352.3 618.48L353.5 618.09L354.7 617.42L355.9 616.96L357.1 617L358.3 616.9L359.5 617.19L360.7 617.07L361.9 617.29L363.1 617.29L364.3 617.1L365.5 617.11L366.7 617.14L367.9 617.21L369.1 617.15L370.3 617.05L371.5 617.07L372.7 617.14L373.9 617.13L375.1 617.11L376.3 617.13L377.5 617.08L378.7 617.27L379.9 617.21L381.1 617.08L382.3 617.27L383.5 617.11L384.7 617.31L385.9 617.08L387.1 617.04L388.3 617.02L389.5 617.26L390.7 617.2L391.9 617.19L393.1 617.12L394.3 617.11L395.5 617.19L396.7 617.21L397.9 617.14L399.1 617.13L400.3 617.29L401.5 617.23L402.7 617.18L403.9 617.01L405.1 616.99L406.3 617.21L407.5 617.35L408.7 617.26L409.9 617.26L411.1 617.36L412.3 617.32L413.5 617.15L414.7 617.21L415.9 617.14L417.1 617.08L418.3 617.26L419.5 617.15L420.7 617.3L421.9 617.38L423.1 617.35L424.3 617.43L425.5 617.24L426.7 617.12L427.9 616.97L429.1 616.93L430.3 617.13L431.5 617.17L432.7 617.23L433.9 617.22L435.1 617.11L436.3 617.17L437.5 617.23L438.7 617.21L439.9 617.23L441.1 617.37L442.3 617.26L443.5 617.21L444.7 617.27L445.9 617.09L447.1 617.09L448.3 617.07L449.5 617.14L450.7 617.02L451.9 617.19L453.1 617.26L454.3 617.22L455.5 617.36L456.7 617.29L457.9 617.21L459.1 617.06L460.3 617.05L461.5 617.05L462.7 617.21L463.9 617.36L465.1 617.21L466.3 617.22L467.5 617.17L468.7 617.09L469.9 617.12L471.1 617.34L472.3 617.28L473.5 617.23L474.7 617.19L475.9 617.24L477.1 617.21L478.3 617.36L479.5 617.27L480.7 617.35L481.9 617.34L483.1 617.33L484.3 617.34"/>
<use href="#wg0" y="620.87"/>
<use href="#wg5" y="624.55"/>
<path d="M325.9 628.23L327.1 628.37L328.3 628.22L329.5 628.26L330.7 628.05L331.9 627.98L333.1 628.23L334.3 628.09L335.5 628.12L336.7 628.55L337.9 629.17L339.1 629.39L340.3 628.91L341.5 628.03L342.7 627.84L343.9 627.94L345.1 628.14L346.3 628.25L347.5 628.25L348.7 628.14L349.9 628.11L351.1 628.19L352.3 628.21L353.5 628.16L354.7 628.34L355.9 628.34L357.1 628.38L358.3 628.19L359.5 628.33L360.7 628.4L361.9 628.31L363.1 628.4L364.3 628.43L365.5 628.41L366.7 628.19L367.9 628.1L369.1 628.04L370.3 628.27L371.5 628.16L372.7 628.24L373.9 628.12L375.1 628.27L376.3 628.32L377.5 628.34L378.7 628.17L379.9 628.11L381.1 628.25L382.3 628.27L383.5 628.16L384.7 628.25L385.9 628.2L387.1 628.26L388.3 628.28L389.5 628.19L390.7 628.12L391.9 628.06L393.1 628.3L394.3 628.12L395.5 628.23L396.7 628.28L397.9 628.38L399.1 628.33L400.3 628.4L401.5 628.4L402.7 628.3L403.9 628.23L405.1 628.1L406.3 628.15L407.5 628.11L408.7 628.24L409.9 628.22L411.1 628.34L412.3 628.33L413.5 628.21L414.7 628.07L415.9 628.17L417.1 628.33L418.3 628.44L419.5 628.3L420.7 628.14L421.9 628.23L423.1 628.09L424.3 627.96L425.5 628.02L426.7 628.15L427.9 628.17L429.1 628.37L430.3 628.4L431.5 628.31L432.7 628.18L433.9 628.08L435.1 628.08L436.3 628.08L437.5 628.26L438.7 628.24L439.9 628.31L441.1 628.32L442.3 628.25L443.5 628.07L444.7 628.17L445.9 628.07L447.1 628.07L448.3 628.27L449.5 628.4L450.7 628.39L451.9 628.44L453.1 628.19L454.3 628.06L455.5 628.23L456.7 628.22L457.9 628.11L459.1 628.31L460.3 628.36L461.5 628.44L462.7 628.33L463.9 628.39L465.1 628.16L466.3 628.13L467.5 628.25L468.7 628.3L469.9 628.1L471.1 628.13L472.3 628.2L473.5 628.41L474.7 628.35L475.9 628.42L477.1 628.33L478.3 628.07L479.5 628.06L480.7 628.03L481.9 628.08L483.1 628.19L484.3 628.34"/>
<use href="#wg3" y="631.9"/>
<use href="#wg8" y="635.58"/>
<path d="M325.9 639.33L327.1 639.44L328.3 639.38L329.5 639.16L330.7 639.05L331.9 639.27L333.1 639.25L334.3 639.38L335.5 639.47L336.7 639.21L337.9 639.07L339.1 639.36L340.3 639.42L341.5 639.3L342.7 639.14L343.9 639.25L345.1 639.01L346.3 639.21L347.5 639.45L348.7 639.37L349.9 639.36L351.1 639.96L352.3 640.42L353.5 640.06L354.7 639.41L355.9 638.96L357.1 638.95L358.3 638.99L359.5 639.19L360.7 639.22L361.9 639.19L363.1 639.14L364.3 639.34L365.5 639.21L366.7 639.29L367.9 639.37L369.1 639.47L370.3 639.17L371.5 639.05L372.7 639.24L373.9 639.4L375.1 639.32L376.3 639.28L377.5 639.22L378.7 639.32L379.9 639.29L381.1 639.42L382.3 639.26L383.5 639.24L384.7 639.05L385.9 639.08L387.1 639.31L388.3 639.18L389.5 639.36L390.7 639.42L391.9 639.17L393.1 639.28L394.3 639.23L395.5 639.16L396.7 639.21L397.9 639.06L399.1 639.23L400.3 639.32L401.5 639.19L402.7 639.4L403.9 639.35L405.1 639.12L406.3 639.2L407.5 639.25L408.7 639.15L409.9 639.12L411.1 639.08L412.3 639.23L413.5 639.31L414.7 639.3L415.9 639.19L417.1 639.19L418.3 639.11L419.5 639.18L420.7 639.36L421.9 639.36L423.1 639.18L424.3 639.29L425.5 639.33L426.7 639.3L427.9 639.29L429.1 639.22L430.3 639.13L431.5 639.13L432.7 639.24L433.9 639.38L435.1 639.22L436.3 639.34L437.5 639.34L438.7 639.26L439.9 639.29L441.1 639.41L442.3 639.25L443.5 639.03L444.7 639.18L445.9 639.25L447.1 639.16L448.3 639.37L449.5 639.32L450.7 639.09L451.9 639.15L453.1 639.25L454.3 639.24L455.5 639.25L456.7 639.15L457.9 639.32L459.1 639.2L460.3 639.24L461.5 639.35L462.7 639.31L463.9 639.21L465.1 639.19L466.3 639.34L467.5 639.28L468.7 639.35L469.9 639.28L471.1 639.24L472.3 639.04L473.5 639.13L474.7 639.35L475.9 639.4L477.1 639.26L478.3 639.38L479.5 639.37L480.7 639.29L481.9 639.26L483.1 639.32L484.3 639.18"/>
<path d="M325.9 642.93L327.1 642.88L328.3 642.93L329.5 642.98L330.7 642.99L331.9 642.95L333.1 642.88L334.3 642.79L335.5 642.97L336.7 643.06L337.9 643.02L339.1 643.07L340.3 642.88L341.5 643.03L342.7 643L343.9 642.92L345.1 642.98L346.3 642.78L347.5 642.95L348.7 642.82L349.9 643.58L351.1 645.42L352.3 647.68L353.5 646.65L354.7 643.68L355.9 642.12L357.1 641.69L358.3 641.83L359.5 642.35L360.7 642.67L361.9 642.93L363.1 643.01L364.3 643.16L365.5 643.02L366.7 642.86L367.9 642.93L369.1 642.92L370.3 642.89L371.5 642.76L372.7 642.79L373.9 642.84L375.1 643.1L376.3 643.19L377.5 642.96L378.7 642.87L379.9 642.77L381.1 642.71L382.3 642.94L383.5 642.86L384.7 643L385.9 642.97L387.1 642.97L388.3 643.07L389.5 642.97L390.7 642.83L391.9 642.82L393.1 642.98L394.3 642.85L395.5 642.8L396.7 642.78L397.9 642.74L399.1 642.94L400.3 642.9L401.5 642.95L402.7 642.89L403.9 642.85L405.1 642.76L406.3 642.94L407.5 642.84L408.7 643.03L409.9 642.98L411.1 643.1L412.3 643.12L413.5 642.89L414.7 642.8L415.9 642.67L417.1 642.88L418.3 642.9L419.5 643.06L420.7 642.97L421.9 643.07L423.1 642.86L424.3 642.88L425.5 642.95L426.7 643L427.9 642.91L429.1 642.88L430.3 643.01L431.5 643.11L432.7 642.93L433.9 642.74L435.1 642.74L436.3 642.88L437.5 642.92L438.7 642.95L439.9 642.86L441.1 642.81L442.3 642.88L443.5 642.87L444.7 642.82L445.9 642.75L447.1 642.85L448.3 642.95L449.5 642.9L450.7 643L451.9 642.98L453.1 642.81L454.3 642.85L455.5 642.87L456.7 642.95L457.9 643.07L459.1 642.9L460.3 642.77L461.5 642.89L462.7 643.06L463.9 642.87L465.1 642.78L466.3 642.86L467.5 643.02L468.7 643.01L469.9 642.88L471.1 642.98L472.3 642.89L473.5 642.79L474.7 642.88L475.9 642.83L477.1 642.79L478.3 642.84L479.5 642.88L480.7 642.87L481.9 642.99L483.1 642.88L484.3 642.94"/>
<path d="M325.9 646.54L327.1 646.41L328.3 646.57L329.5 646.65L330.7 646.61L331.9 646.72L333.1 646.53L334.3 646.57L335.5 646.64L336.7 646.54L337.9 646.4L339.1 646.39L340.3 646.56L341.5 646.5L342.7 646.62L343.9 646.7L345.1 646.47L346.3 646.62L347.5 646.8L348.7 646.58L349.9 646.78L351.1 647.3L352.3 647.85L353.5 647.63L354.7 646.8L355.9 646.5L357.1 646.44L358.3 646.39L359.5 646.44L360.7 646.4L361.9 646.38L363.1 646.43L364.3 646.63L365.5 646.46L366.7 646.54L367.9 646.5L369.1 646.54L370.3 646.48L371.5 646.45L372.7 646.51L373.9 646.53L375.1 646.53L376.3 646.77L377.5 646.72L378.7 646.47L379.9 646.63L381.1 646.64L382.3 646.66L383.5 646.49L384.7 646.49L385.9 646.46L387.1 646.58L388.3 646.62L389.5 646.62L390.7 646.7L391.9 646.76L393.1 646.55L394.3 646.41L395.5 646.5L396.7 646.54L397.9 646.5L399.1 646.56L400.3 646.67L401.5 646.67L402.7 646.78L403.9 646.56L405.1 646.65L406.3 646.57L407.5 646.55L408.7 646.68L409.9 646.69L411.1 646.55L412.3 646.48L413.5 646.68L414.7 646.75L415.9 646.73L417.1 646.54L418.3 646.54L419.5 646.44L420.7 646.53L421.9 646.67L423.1 646.57L424.3 646.5L425.5 646.7L426.7 646.63L427.9 646.53L429.1 646.58L430.3 646.73L431.5 646.73L432.7 646.62L433.9 646.7L435.1 646.59L436.3 646.58L437.5 646.67L438.7 646.56L439.9 646.49L441.1 646.7L442.3 646.67L443.5 646.61L444.7 646.41L445.9 646.5L447.1 646.55L448.3 646.76L449.5 646.72L450.7 646.59L451.9 646.56L453.1 646.5L454.3 646.72L455.5 646.57L456.7 646.47L457.9 646.44L459.1 646.51L460.3 646.49L461.5 646.58L462.7 646.47L463.9 646.63L465.1 646.63L466.3 646.64L467.5 646.53L468.7 646.8L469.9 646.71L471.1 646.52L472.3 646.61L473.5 646.58L474.7 646.52L475.9 646.69L477.1 646.61L478.3 646.54L479.5 646.59L480.7 646.79L481.9 646.82L483.1 646.61L484.3 646.69"/>
<use href="#wg4" y="650.28"/>
<use href="#wg0" y="653.96"/>
<use href="#wg5" y="657.63"/>
<use href="#wg10" y="661.31"/>
<use href="#wg3" y="664.99"/>
<use href="#wg8" y="668.66"/>
<use href="#wg1" y="672.34"/>
<use href="#wg6" y="676.01"/>
<use href="#wg11" y="679.69"/>
<use href="#wg4" y="683.37"/>
<use href="#wg9" y="687.04"/>
<use href="#wg2" y="690.72"/>
<use href="#wg7" y="694.4"/>
<use href="#wg3" y="698.07"/>
<use href="#wg8" y="701.75"/>
<use href="#wg1" y="705.42"/>
<use href="#wg6" y="709.1"/>
</g>
<text x="323.2" y="484.1" font-size="10" fill="#0c0c0c" stroke="#0c0c0c" text-anchor="end">64</text>
<text x="322.2" y="709.2" font-size="10" fill="#0c0c0c" stroke="#0c0c0c" text-anchor="end">1</text>
<text x="308.7" y="594.7" font-size="10.4" fill="#0c0c0c" stroke="#0c0c0c" text-anchor="middle" transform="rotate(-90 308.7 594.7)">Electrode channels</text>
<rect x="326.2" y="595" width="26.4" height="13.9" fill="none" stroke="#ee2424" stroke-width="1.45" stroke-dasharray="5.3 5.0"/>
<line x1="326.2" y1="608.9" x2="412" y2="708.8" stroke="#ee2424" stroke-width="1.45" stroke-dasharray="7.8 4.6"/>
<line x1="352.6" y1="608.9" x2="484" y2="664.6" stroke="#ee2424" stroke-width="1.45" stroke-dasharray="7.8 4.6"/>
<rect x="412" y="664.6" width="72" height="44.2" fill="#fff" stroke="#ee2424" stroke-width="1.3"/>
<g fill="none" stroke="#0072bd" stroke-width="1.6" stroke-linejoin="round" stroke-linecap="round">
<path d="M413 667.44C413.25 667.41 414 667.32 414.5 667.27C415 667.23 415.5 667.18 416 667.17C416.5 667.17 417 667.2 417.5 667.27C418 667.33 418.5 667.45 419 667.55C419.5 667.66 420 667.81 420.5 667.91C421 668.01 421.5 668.11 422 668.15C422.5 668.19 423 668.19 423.5 668.16C424 668.12 424.5 668.02 425 667.94C425.5 667.85 426 667.73 426.5 667.64C427 667.56 427.5 667.47 428 667.43C428.5 667.38 429 667.38 429.5 667.38C430 667.39 430.5 667.43 431 667.45C431.5 667.47 432 667.51 432.5 667.51C433 667.52 433.5 667.5 434 667.47C434.5 667.44 435 667.38 435.5 667.34C436 667.3 436.5 667.24 437 667.23C437.5 667.23 438 667.24 438.5 667.29C439 667.34 439.5 667.44 440 667.54C440.5 667.64 441 667.77 441.5 667.88C442 667.99 442.5 668.06 443 668.2C443.5 668.35 444 668.49 444.5 668.77C445 669.04 445.5 669.71 446 669.85C446.5 669.99 447 669.9 447.5 669.61C448 669.31 448.5 668.43 449 668.06C449.5 667.69 450 667.5 450.5 667.38C451 667.27 451.5 667.37 452 667.38C452.5 667.4 453 667.46 453.5 667.48C454 667.5 454.5 667.5 455 667.49C455.5 667.48 456 667.43 456.5 667.4C457 667.37 457.5 667.32 458 667.3C458.5 667.29 459 667.28 459.5 667.32C460 667.36 460.5 667.44 461 667.53C461.5 667.61 462 667.75 462.5 667.85C463 667.95 463.5 668.07 464 668.12C464.5 668.18 465 668.21 465.5 668.19C466 668.17 466.5 668.1 467 668.01C467.5 667.93 468 667.79 468.5 667.68C469 667.58 469.5 667.46 470 667.38C470.5 667.31 471 667.27 471.5 667.25C472 667.24 472.5 667.28 473 667.31C473.5 667.34 474 667.4 474.5 667.43C475 667.47 475.5 667.5 476 667.51C476.5 667.51 477 667.49 477.5 667.47C478 667.44 478.5 667.39 479 667.38C479.5 667.36 480 667.34 480.5 667.37C481 667.39 481.75 667.5 482 667.52"/>
<path d="M413 676.61C413.25 676.61 414 676.64 414.5 676.62C415 676.61 415.5 676.57 416 676.52C416.5 676.48 417 676.4 417.5 676.37C418 676.33 418.5 676.29 419 676.3C419.5 676.3 420 676.35 420.5 676.42C421 676.49 421.5 676.61 422 676.72C422.5 676.83 423 676.98 423.5 677.07C424 677.16 424.5 677.25 425 677.28C425.5 677.3 426 677.29 426.5 677.24C427 677.19 427.5 677.08 428 676.99C428.5 676.9 429 676.77 429.5 676.68C430 676.6 430.5 676.52 431 676.49C431.5 676.45 432 676.45 432.5 676.46C433 676.47 433.5 676.52 434 676.54C434.5 676.57 435 676.6 435.5 676.61C436 676.61 436.5 676.59 437 676.56C437.5 676.53 438 676.47 438.5 676.44C439 676.41 439.5 676.35 440 676.37C440.5 676.4 441 676.42 441.5 676.59C442 676.76 442.5 677.01 443 677.41C443.5 677.8 444 678.46 444.5 678.98C445 679.51 445.5 680.26 446 680.53C446.5 680.8 447 680.82 447.5 680.58C448 680.33 448.5 679.59 449 679.07C449.5 678.55 450 677.87 450.5 677.46C451 677.05 451.5 676.8 452 676.63C452.5 676.45 453 676.44 453.5 676.41C454 676.39 454.5 676.45 455 676.48C455.5 676.5 456 676.56 456.5 676.58C457 676.6 457.5 676.6 458 676.59C458.5 676.58 459 676.53 459.5 676.51C460 676.48 460.5 676.43 461 676.42C461.5 676.41 462 676.42 462.5 676.46C463 676.51 463.5 676.6 464 676.69C464.5 676.78 465 676.91 465.5 677.01C466 677.1 466.5 677.21 467 677.25C467.5 677.3 468 677.31 468.5 677.28C469 677.24 469.5 677.15 470 677.06C470.5 676.96 471 676.82 471.5 676.72C472 676.61 472.5 676.49 473 676.43C473.5 676.37 474 676.33 474.5 676.33C475 676.32 475.5 676.37 476 676.4C476.5 676.44 477 676.51 477.5 676.54C478 676.58 478.5 676.61 479 676.61C479.5 676.62 480 676.59 480.5 676.57C481 676.55 481.75 676.51 482 676.49"/>
<path d="M413 685.28C413.25 685.23 414 685.03 414.5 684.94C415 684.85 415.5 684.76 416 684.73C416.5 684.7 417 684.71 417.5 684.75C418 684.8 418.5 684.9 419 684.98C419.5 685.06 420 685.18 420.5 685.26C421 685.34 421.5 685.41 422 685.44C422.5 685.48 423 685.48 423.5 685.48C424 685.48 424.5 685.44 425 685.44C425.5 685.43 426 685.42 426.5 685.44C427 685.46 427.5 685.51 428 685.55C428.5 685.6 429 685.68 429.5 685.71C430 685.74 430.5 685.78 431 685.72C431.5 685.66 432 685.57 432.5 685.38C433 685.19 433.5 684.9 434 684.58C434.5 684.26 435 683.83 435.5 683.46C436 683.09 436.5 682.65 437 682.37C437.5 682.09 438 681.82 438.5 681.77C439 681.71 439.5 681.75 440 682.04C440.5 682.33 441 682.76 441.5 683.5C442 684.24 442.5 685.27 443 686.48C443.5 687.68 444 689.43 444.5 690.73C445 692.03 445.5 693.65 446 694.27C446.5 694.9 447 694.98 447.5 694.49C448 694 448.5 692.52 449 691.35C449.5 690.19 450 688.58 450.5 687.49C451 686.4 451.5 685.5 452 684.81C452.5 684.12 453 683.72 453.5 683.35C454 682.97 454.5 682.74 455 682.56C455.5 682.38 456 682.29 456.5 682.29C457 682.29 457.5 682.39 458 682.55C458.5 682.71 459 682.99 459.5 683.27C460 683.55 460.5 683.92 461 684.23C461.5 684.54 462 684.87 462.5 685.13C463 685.39 463.5 685.62 464 685.77C464.5 685.93 465 686.02 465.5 686.08C466 686.14 466.5 686.12 467 686.13C467.5 686.13 468 686.09 468.5 686.09C469 686.08 469.5 686.09 470 686.11C470.5 686.13 471 686.19 471.5 686.23C472 686.27 472.5 686.34 473 686.37C473.5 686.39 474 686.41 474.5 686.38C475 686.35 475.5 686.28 476 686.2C476.5 686.12 477 685.99 477.5 685.9C478 685.8 478.5 685.68 479 685.63C479.5 685.57 480 685.54 480.5 685.55C481 685.57 481.75 685.7 482 685.73"/>
<path d="M413 694.28C413.25 694.29 414 694.34 414.5 694.34C415 694.34 415.5 694.31 416 694.29C416.5 694.26 417 694.21 417.5 694.19C418 694.16 418.5 694.14 419 694.16C419.5 694.19 420 694.24 420.5 694.32C421 694.4 421.5 694.54 422 694.65C422.5 694.76 423 694.9 423.5 694.99C424 695.08 424.5 695.16 425 695.18C425.5 695.2 426 695.17 426.5 695.11C427 695.05 427.5 694.94 428 694.84C428.5 694.74 429 694.61 429.5 694.51C430 694.42 430.5 694.34 431 694.27C431.5 694.21 432 694.18 432.5 694.14C433 694.09 433.5 694.07 434 694C434.5 693.93 435 693.84 435.5 693.73C436 693.62 436.5 693.45 437 693.33C437.5 693.22 438 693.06 438.5 693.04C439 693.03 439.5 693.04 440 693.23C440.5 693.43 441 693.76 441.5 694.21C442 694.66 442.5 695.33 443 695.95C443.5 696.57 444 697.38 444.5 697.94C445 698.5 445.5 699.07 446 699.31C446.5 699.55 447 699.58 447.5 699.38C448 699.18 448.5 698.65 449 698.13C449.5 697.61 450 696.85 450.5 696.26C451 695.66 451.5 695.03 452 694.58C452.5 694.12 453 693.78 453.5 693.55C454 693.31 454.5 693.23 455 693.19C455.5 693.14 456 693.22 456.5 693.28C457 693.35 457.5 693.47 458 693.58C458.5 693.69 459 693.81 459.5 693.92C460 694.03 460.5 694.13 461 694.25C461.5 694.36 462 694.48 462.5 694.61C463 694.74 463.5 694.89 464 695.03C464.5 695.17 465 695.32 465.5 695.44C466 695.55 466.5 695.66 467 695.7C467.5 695.75 468 695.75 468.5 695.72C469 695.68 469.5 695.58 470 695.49C470.5 695.4 471 695.25 471.5 695.15C472 695.05 472.5 694.95 473 694.89C473.5 694.84 474 694.82 474.5 694.83C475 694.85 475.5 694.91 476 694.96C476.5 695.02 477 695.11 477.5 695.16C478 695.21 478.5 695.26 479 695.28C479.5 695.3 480 695.29 480.5 695.28C481 695.28 481.75 695.25 482 695.24"/>
<path d="M413 703.81C413.25 703.83 414 703.92 414.5 703.93C415 703.95 415.5 703.92 416 703.9C416.5 703.88 417 703.83 417.5 703.81C418 703.79 418.5 703.78 419 703.8C419.5 703.81 420 703.86 420.5 703.9C421 703.94 421.5 704 422 704.03C422.5 704.05 423 704.07 423.5 704.05C424 704.02 424.5 703.96 425 703.88C425.5 703.79 426 703.66 426.5 703.55C427 703.45 427.5 703.31 428 703.24C428.5 703.16 429 703.1 429.5 703.1C430 703.1 430.5 703.15 431 703.22C431.5 703.29 432 703.41 432.5 703.51C433 703.61 433.5 703.74 434 703.82C434.5 703.9 435 703.96 435.5 703.99C436 704.01 436.5 703.99 437 703.97C437.5 703.95 438 703.89 438.5 703.87C439 703.84 439.5 703.8 440 703.8C440.5 703.8 441 703.82 441.5 703.85C442 703.87 442.5 703.93 443 703.95C443.5 703.98 444 704.01 444.5 704C445 703.98 445.5 703.94 446 703.87C446.5 703.8 447 703.68 447.5 703.58C448 703.48 448.5 703.35 449 703.27C449.5 703.19 450 703.12 450.5 703.1C451 703.09 451.5 703.13 452 703.19C452.5 703.25 453 703.38 453.5 703.48C454 703.59 454.5 703.73 455 703.82C455.5 703.91 456 703.99 456.5 704.03C457 704.07 457.5 704.06 458 704.04C458.5 704.03 459 703.96 459.5 703.93C460 703.89 460.5 703.83 461 703.81C461.5 703.79 462 703.79 462.5 703.8C463 703.81 463.5 703.86 464 703.88C464.5 703.9 465 703.94 465.5 703.94C466 703.93 466.5 703.91 467 703.85C467.5 703.8 468 703.7 468.5 703.61C469 703.52 469.5 703.39 470 703.31C470.5 703.23 471 703.14 471.5 703.12C472 703.1 472.5 703.12 473 703.17C473.5 703.23 474 703.35 474.5 703.45C475 703.56 475.5 703.71 476 703.81C476.5 703.91 477 704.01 477.5 704.06C478 704.11 478.5 704.12 479 704.11C479.5 704.1 480 704.03 480.5 703.99C481 703.94 481.75 703.86 482 703.83"/>
</g>
<text x="400" y="719.7" font-size="10.3" fill="#0c0c0c" stroke="#0c0c0c" text-anchor="middle">Time</text>
<rect x="475.8" y="712.6" width="9.3" height="2.3" fill="#000"/>
<text x="480.9" y="725.5" font-size="10.2" fill="#0c0c0c" stroke="#0c0c0c" text-anchor="middle">1 ms</text>
<circle cx="240.6" cy="541.7" r="7.95" fill="#c9f6f9" stroke="#0a0a0a" stroke-width="1.5"/>
<text x="241" y="545.7" font-size="10.2" fill="#111" stroke="#111" text-anchor="middle">GT</text>
<polygon points="242.42,544.44 323.54,604.35 325.06,602.25 242.78,543.96" fill="#dff9fb" stroke="#0a0a0a" stroke-width="1.2" stroke-linejoin="round"/>
<text x="313.3" y="606" font-size="9.6" fill="#000" stroke="#000">GT</text>
<!-- panel h -->
<text x="500.6" y="470.9" font-size="12" fill="#000" stroke="#000" font-weight="bold">h.</text>
<text x="596.2" y="474" font-size="10.35" fill="#0c0c0c" stroke="#0c0c0c" text-anchor="middle">Final spike trains</text>
<rect x="521.5" y="477.3" width="156.4" height="232.4" fill="#05061c"/>
<text x="520.5" y="485.1" font-size="9.8" fill="#0c0c0c" stroke="#0c0c0c" text-anchor="end">1280</text>
<text x="519.6" y="708.2" font-size="10" fill="#0c0c0c" stroke="#0c0c0c" text-anchor="end">1</text>
<text x="515.2" y="593.5" font-size="10.3" fill="#0c0c0c" stroke="#0c0c0c" text-anchor="middle" transform="rotate(-90 515.2 593.5)">Spike encoded input</text>
<path d="M530.9 571.66L532.7 570.94M534.1 573.76L535.9 573.04" fill="none" stroke="#fbeee2" stroke-width="1.15" opacity="0.9"/>
<path d="M607.95 590.18L609.85 589.42" fill="none" stroke="#fbeee2" stroke-width="1.15" opacity="0.75"/>
<path d="M531.6 597.48L533 596.92M530.3 601.28L532.7 600.32M533.75 600.64L535.45 599.96M531.4 603.96L535.2 602.44M529.9 604.78L531.3 604.22" fill="none" stroke="#fbeee2" stroke-width="1.15" opacity="1"/>
<path d="M545.55 612.62L547.65 611.78M547.95 613.8L550.45 612.8M545.5 615.68L546.9 615.12" fill="none" stroke="#fbeee2" stroke-width="1.15" opacity="0.9"/>
<path d="M545.65 641.78L547.55 641.02M547.6 643.66L550.4 642.54M546.25 638.18L547.15 637.82" fill="none" stroke="#fbeee2" stroke-width="1.15" opacity="0.9"/>
<rect x="523.4" y="594.6" width="21" height="13.8" fill="none" stroke="#ee2424" stroke-width="1.45" stroke-dasharray="5.3 5.0"/>
<line x1="523.4" y1="608.4" x2="614.4" y2="708.7" stroke="#ee2424" stroke-width="1.45" stroke-dasharray="7.8 4.6"/>
<line x1="544.4" y1="608.4" x2="678" y2="669.4" stroke="#ee2424" stroke-width="1.45" stroke-dasharray="7.8 4.6"/>
<rect x="614.4" y="669.4" width="63.6" height="39.3" fill="#05061c" stroke="#ee2424" stroke-width="1.3"/>
<path d="M640.3 678L644.9 678.3L640.3 681.3ZM647.8 684.2L652.1 682L651.9 683L649 684.5ZM638.5 687.5L644.9 687.5L641.6 691L637.2 691ZM646.5 691.6L655.2 691L647.8 696L642.8 695.3ZM637.2 697.8L642.8 695L642.2 696.4L637.8 698.4ZM648.4 700.3H650.9V701H648.4Z" fill="#fbe9da"/>
<text x="594.7" y="719.7" font-size="10.3" fill="#0c0c0c" stroke="#0c0c0c" text-anchor="middle">Time</text>
<rect x="668.6" y="712.1" width="9.3" height="2.3" fill="#000"/>
<text x="673.4" y="725.2" font-size="10.2" fill="#0c0c0c" stroke="#0c0c0c" text-anchor="middle">1 ms</text>
</svg>
</body></html>
